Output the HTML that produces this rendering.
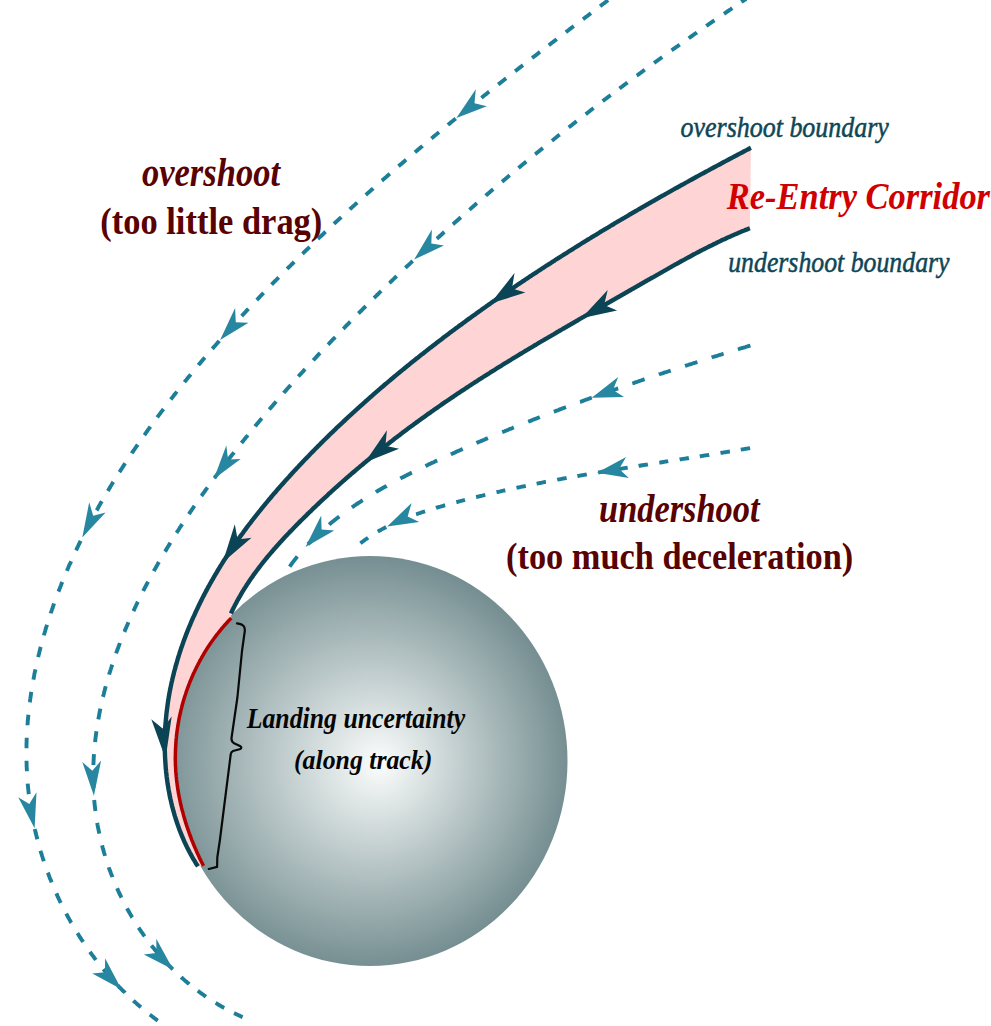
<!DOCTYPE html>
<html><head><meta charset="utf-8"><style>
html,body{margin:0;padding:0;background:#fff;}
svg{display:block;}
</style></head><body>
<svg width="991" height="1026" viewBox="0 0 991 1026">
<defs><radialGradient id="g" gradientUnits="userSpaceOnUse" cx="362.6" cy="761.8" r="206.3" fx="380.4" fy="763.2"><stop offset="0" stop-color="#fbfdfc"/><stop offset="1" stop-color="#758e91"/></radialGradient></defs>
<ellipse cx="370" cy="761" rx="197.5" ry="205" fill="url(#g)"/>
<path d="M750.9,147.8 L749.5,148.5 L748.2,149.2 L746.9,149.9 L745.5,150.6 L744.2,151.3 L742.9,152.0 L741.6,152.7 L740.2,153.4 L738.9,154.1 L737.6,154.8 L736.3,155.5 L734.9,156.2 L733.6,156.9 L732.3,157.6 L731.0,158.3 L729.6,159.0 L728.3,159.7 L727.0,160.4 L725.7,161.1 L724.3,161.8 L723.0,162.5 L721.7,163.2 L720.4,164.0 L719.0,164.7 L717.7,165.4 L716.4,166.1 L715.1,166.8 L713.7,167.5 L712.4,168.2 L711.1,168.9 L709.8,169.6 L708.5,170.4 L707.1,171.1 L705.8,171.8 L704.5,172.5 L703.2,173.2 L701.8,173.9 L700.5,174.7 L699.2,175.4 L697.9,176.1 L696.6,176.8 L695.3,177.5 L693.9,178.3 L692.6,179.0 L691.3,179.7 L690.0,180.4 L688.7,181.2 L687.4,181.9 L686.0,182.6 L684.7,183.3 L683.4,184.1 L682.1,184.8 L680.8,185.5 L679.5,186.3 L678.1,187.0 L676.8,187.7 L675.5,188.4 L674.2,189.2 L672.9,189.9 L671.6,190.6 L670.3,191.4 L669.0,192.1 L667.6,192.9 L666.3,193.6 L665.0,194.3 L663.7,195.1 L662.4,195.8 L661.1,196.5 L659.8,197.3 L658.5,198.0 L657.2,198.8 L655.9,199.5 L654.6,200.3 L653.3,201.0 L651.9,201.7 L650.6,202.5 L649.3,203.2 L648.0,204.0 L646.7,204.7 L645.4,205.5 L644.1,206.2 L642.8,207.0 L641.5,207.7 L640.2,208.5 L638.9,209.2 L637.6,210.0 L636.3,210.8 L635.0,211.5 L633.7,212.3 L632.4,213.0 L631.1,213.8 L629.8,214.5 L628.5,215.3 L627.2,216.1 L625.9,216.8 L624.6,217.6 L623.3,218.3 L622.0,219.1 L620.7,219.9 L619.4,220.6 L618.1,221.4 L616.8,222.2 L615.5,222.9 L614.2,223.7 L613.0,224.5 L611.7,225.2 L610.4,226.0 L609.1,226.8 L607.8,227.6 L606.5,228.3 L605.2,229.1 L603.9,229.9 L602.6,230.7 L601.3,231.4 L600.1,232.2 L598.8,233.0 L597.5,233.8 L596.2,234.6 L594.9,235.3 L593.6,236.1 L592.3,236.9 L591.1,237.7 L589.8,238.5 L588.5,239.3 L587.2,240.0 L585.9,240.8 L584.6,241.6 L583.4,242.4 L582.1,243.2 L580.8,244.0 L579.5,244.8 L578.2,245.6 L577.0,246.4 L575.7,247.2 L574.4,248.0 L573.1,248.8 L571.9,249.6 L570.6,250.4 L569.3,251.2 L568.0,252.0 L566.8,252.8 L565.5,253.6 L564.2,254.4 L563.0,255.2 L561.7,256.0 L560.4,256.8 L559.1,257.6 L557.9,258.4 L556.6,259.2 L555.3,260.0 L554.1,260.8 L552.8,261.6 L551.5,262.5 L550.3,263.3 L549.0,264.1 L547.8,264.9 L546.5,265.7 L545.2,266.5 L544.0,267.3 L542.7,268.2 L541.4,269.0 L540.2,269.8 L538.9,270.6 L537.7,271.5 L536.4,272.3 L535.2,273.1 L533.9,273.9 L532.6,274.8 L531.4,275.6 L530.1,276.4 L528.9,277.3 L527.6,278.1 L526.4,278.9 L525.1,279.7 L523.9,280.6 L522.6,281.4 L521.4,282.3 L520.1,283.1 L518.9,283.9 L517.6,284.8 L516.4,285.6 L515.1,286.5 L513.9,287.3 L512.6,288.1 L511.4,289.0 L510.2,289.8 L508.9,290.7 L507.7,291.5 L506.4,292.4 L505.2,293.2 L504.0,294.1 L502.7,294.9 L501.5,295.8 L500.2,296.6 L499.0,297.5 L497.8,298.3 L496.5,299.2 L495.3,300.1 L494.1,300.9 L492.8,301.8 L491.6,302.6 L490.4,303.5 L489.1,304.4 L487.9,305.2 L486.7,306.1 L485.5,307.0 L484.2,307.8 L483.0,308.7 L481.8,309.6 L480.6,310.5 L479.3,311.3 L478.1,312.2 L476.9,313.1 L475.7,314.0 L474.5,314.8 L473.2,315.7 L472.0,316.6 L470.8,317.5 L469.6,318.4 L468.4,319.2 L467.1,320.1 L465.9,321.0 L464.7,321.9 L463.5,322.8 L462.3,323.7 L461.1,324.6 L459.9,325.4 L458.7,326.3 L457.5,327.2 L456.2,328.1 L455.0,329.0 L453.8,329.9 L452.6,330.8 L451.4,331.7 L450.2,332.6 L449.0,333.5 L447.8,334.4 L446.6,335.3 L445.4,336.2 L444.2,337.1 L443.0,338.0 L441.8,339.0 L440.6,339.9 L439.4,340.8 L438.2,341.7 L437.0,342.6 L435.9,343.5 L434.7,344.4 L433.5,345.3 L432.3,346.3 L431.1,347.2 L429.9,348.1 L428.7,349.0 L427.5,349.9 L426.4,350.9 L425.2,351.8 L424.0,352.7 L422.8,353.7 L421.6,354.6 L420.4,355.5 L419.3,356.4 L418.1,357.4 L416.9,358.3 L415.7,359.2 L414.6,360.2 L413.4,361.1 L412.2,362.1 L411.0,363.0 L409.9,363.9 L408.7,364.9 L407.5,365.8 L406.4,366.8 L405.2,367.7 L404.0,368.7 L402.9,369.6 L401.7,370.6 L400.6,371.5 L399.4,372.5 L398.2,373.4 L397.1,374.4 L395.9,375.4 L394.8,376.3 L393.6,377.3 L392.5,378.2 L391.3,379.2 L390.2,380.2 L389.0,381.1 L387.9,382.1 L386.7,383.1 L385.6,384.0 L384.4,385.0 L383.3,386.0 L382.1,387.0 L381.0,387.9 L379.9,388.9 L378.7,389.9 L377.6,390.9 L376.4,391.9 L375.3,392.9 L374.2,393.8 L373.0,394.8 L371.9,395.8 L370.8,396.8 L369.6,397.8 L368.5,398.8 L367.4,399.8 L366.3,400.8 L365.1,401.8 L364.0,402.8 L362.9,403.8 L361.8,404.8 L360.7,405.8 L359.5,406.8 L358.4,407.8 L357.3,408.8 L356.2,409.8 L355.1,410.8 L354.0,411.8 L352.9,412.8 L351.8,413.9 L350.7,414.9 L349.6,415.9 L348.5,416.9 L347.4,417.9 L346.3,419.0 L345.2,420.0 L344.1,421.0 L343.0,422.0 L341.9,423.1 L340.8,424.1 L339.7,425.1 L338.6,426.2 L337.5,427.2 L336.4,428.2 L335.3,429.3 L334.2,430.3 L333.2,431.4 L332.1,432.4 L331.0,433.4 L329.9,434.5 L328.8,435.5 L327.8,436.6 L326.7,437.6 L325.6,438.7 L324.5,439.8 L323.5,440.8 L322.4,441.9 L321.3,442.9 L320.3,444.0 L319.2,445.1 L318.1,446.1 L317.1,447.2 L316.0,448.3 L315.0,449.3 L313.9,450.4 L312.9,451.5 L311.8,452.5 L310.8,453.6 L309.7,454.7 L308.7,455.8 L307.6,456.9 L306.6,458.0 L305.5,459.0 L304.5,460.1 L303.4,461.2 L302.4,462.3 L301.4,463.4 L300.3,464.5 L299.3,465.6 L298.3,466.7 L297.2,467.8 L296.2,468.9 L295.2,470.0 L294.2,471.1 L293.1,472.2 L292.1,473.3 L291.1,474.4 L290.1,475.5 L289.1,476.7 L288.1,477.8 L287.0,478.9 L286.0,480.0 L285.0,481.1 L284.0,482.3 L283.0,483.4 L282.0,484.5 L281.0,485.6 L280.0,486.8 L279.0,487.9 L278.0,489.0 L277.0,490.2 L276.1,491.3 L275.1,492.5 L274.1,493.6 L273.1,494.7 L272.1,495.9 L271.2,497.0 L270.2,498.2 L269.2,499.3 L268.2,500.5 L267.3,501.7 L266.3,502.8 L265.4,504.0 L264.4,505.1 L263.4,506.3 L262.5,507.5 L261.5,508.6 L260.6,509.8 L259.6,511.0 L258.7,512.2 L257.8,513.3 L256.8,514.5 L255.9,515.7 L255.0,516.9 L254.0,518.1 L253.1,519.3 L252.2,520.5 L251.3,521.6 L250.4,522.8 L249.4,524.0 L248.5,525.2 L247.6,526.4 L246.7,527.6 L245.8,528.9 L244.9,530.1 L244.0,531.3 L243.2,532.5 L242.3,533.7 L241.4,534.9 L240.5,536.1 L239.6,537.4 L238.7,538.6 L237.9,539.8 L237.0,541.0 L236.1,542.3 L235.3,543.5 L234.4,544.7 L233.6,546.0 L232.7,547.2 L231.9,548.5 L231.0,549.7 L230.2,551.0 L229.4,552.2 L228.5,553.5 L227.7,554.7 L226.9,556.0 L226.1,557.2 L225.3,558.5 L224.4,559.8 L223.6,561.0 L222.8,562.3 L222.0,563.6 L221.2,564.9 L220.4,566.1 L219.7,567.4 L218.9,568.7 L218.1,570.0 L217.3,571.3 L216.6,572.6 L215.8,573.9 L215.0,575.2 L214.3,576.5 L213.5,577.8 L212.8,579.1 L212.0,580.4 L211.3,581.7 L210.5,583.0 L209.8,584.3 L209.1,585.6 L208.3,586.9 L207.6,588.3 L206.9,589.6 L206.2,590.9 L205.5,592.2 L204.8,593.6 L204.1,594.9 L203.4,596.2 L202.7,597.6 L202.0,598.9 L201.4,600.3 L200.7,601.6 L200.0,603.0 L199.4,604.3 L198.7,605.7 L198.1,607.0 L197.4,608.4 L196.8,609.7 L196.1,611.1 L195.5,612.5 L194.9,613.8 L194.3,615.2 L193.6,616.6 L193.0,617.9 L192.4,619.3 L191.8,620.7 L191.2,622.1 L190.6,623.5 L190.1,624.9 L189.5,626.2 L188.9,627.6 L188.3,629.0 L187.8,630.4 L187.2,631.8 L186.7,633.2 L186.1,634.6 L185.6,636.0 L185.1,637.4 L184.5,638.8 L184.0,640.2 L183.5,641.6 L183.0,643.1 L182.5,644.5 L182.0,645.9 L181.5,647.3 L181.0,648.7 L180.6,650.2 L180.1,651.6 L179.6,653.0 L179.2,654.4 L178.7,655.9 L178.3,657.3 L177.8,658.7 L177.4,660.2 L177.0,661.6 L176.6,663.1 L176.2,664.5 L175.7,665.9 L175.4,667.4 L175.0,668.8 L174.6,670.3 L174.2,671.7 L173.8,673.2 L173.5,674.7 L173.1,676.1 L172.8,677.6 L172.4,679.0 L172.1,680.5 L171.7,682.0 L171.4,683.4 L171.1,684.9 L170.8,686.4 L170.5,687.8 L170.2,689.3 L169.9,690.8 L169.6,692.3 L169.4,693.7 L169.1,695.2 L168.8,696.7 L168.6,698.2 L168.4,699.7 L168.1,701.1 L167.9,702.6 L167.7,704.1 L167.5,705.6 L167.3,707.1 L167.1,708.6 L166.9,710.1 L166.7,711.6 L166.5,713.1 L166.4,714.6 L166.2,716.1 L166.1,717.6 L165.9,719.1 L165.8,720.6 L165.7,722.1 L165.5,723.6 L165.4,725.1 L165.3,726.6 L165.2,728.1 L165.2,729.6 L165.1,731.1 L165.0,732.6 L164.9,734.1 L164.9,735.6 L164.8,737.1 L164.8,738.6 L164.8,740.2 L164.8,741.7 L164.7,743.2 L164.7,744.7 L164.7,746.2 L164.8,747.7 L164.8,749.2 L164.8,750.7 L164.9,752.2 L164.9,753.7 L165.0,755.2 L165.0,756.7 L165.1,758.2 L165.2,759.7 L165.3,761.2 L165.4,762.7 L165.5,764.2 L165.6,765.8 L165.7,767.3 L165.8,768.8 L166.0,770.2 L166.1,771.7 L166.3,773.2 L166.5,774.7 L166.6,776.2 L166.8,777.7 L167.0,779.2 L167.2,780.7 L167.4,782.2 L167.6,783.7 L167.9,785.2 L168.1,786.7 L168.4,788.1 L168.6,789.6 L168.9,791.1 L169.2,792.6 L169.4,794.0 L169.7,795.5 L170.0,797.0 L170.3,798.5 L170.7,799.9 L171.0,801.4 L171.3,802.8 L171.7,804.3 L172.0,805.8 L172.4,807.2 L172.8,808.7 L173.2,810.1 L173.6,811.6 L174.0,813.0 L174.4,814.5 L174.8,815.9 L175.3,817.3 L175.7,818.8 L176.2,820.2 L176.6,821.6 L177.1,823.0 L177.6,824.4 L178.1,825.9 L178.6,827.3 L179.1,828.7 L179.6,830.1 L180.2,831.5 L180.7,832.9 L181.3,834.3 L181.8,835.7 L182.4,837.0 L183.0,838.4 L183.6,839.8 L184.2,841.2 L184.8,842.5 L185.5,843.9 L186.1,845.3 L186.8,846.6 L187.4,848.0 L188.1,849.3 L188.8,850.6 L189.5,852.0 L190.2,853.3 L190.9,854.6 L191.6,856.0 L192.4,857.3 L193.1,858.6 L193.9,859.9 L194.7,861.2 L195.5,862.5 L196.2,863.8 L197.1,865.0 L197.9,866.3 L203.5,865.9 L202.8,864.5 L202.1,863.2 L201.4,861.8 L200.8,860.5 L200.1,859.1 L199.4,857.7 L198.8,856.3 L198.2,855.0 L197.5,853.6 L196.9,852.2 L196.3,850.8 L195.7,849.4 L195.1,848.0 L194.5,846.6 L193.9,845.2 L193.3,843.8 L192.8,842.4 L192.2,841.0 L191.6,839.6 L191.1,838.2 L190.6,836.7 L190.0,835.3 L189.5,833.9 L189.0,832.5 L188.5,831.0 L188.0,829.6 L187.5,828.1 L187.0,826.7 L186.5,825.3 L186.1,823.8 L185.6,822.4 L185.2,820.9 L184.7,819.4 L184.3,818.0 L183.9,816.5 L183.5,815.1 L183.1,813.6 L182.7,812.1 L182.3,810.7 L181.9,809.2 L181.5,807.7 L181.2,806.2 L180.8,804.8 L180.5,803.3 L180.2,801.8 L179.9,800.3 L179.6,798.8 L179.3,797.3 L179.0,795.9 L178.7,794.4 L178.4,792.9 L178.2,791.4 L177.9,789.9 L177.7,788.4 L177.5,786.9 L177.3,785.4 L177.1,783.9 L176.9,782.4 L176.7,780.9 L176.5,779.4 L176.4,777.9 L176.2,776.4 L176.1,774.9 L176.0,773.4 L175.8,771.9 L175.7,770.4 L175.7,768.9 L175.6,767.3 L175.5,765.8 L175.4,764.3 L175.4,762.8 L175.4,761.3 L175.3,759.8 L175.3,758.3 L175.3,756.8 L175.4,755.3 L175.4,753.7 L175.4,752.2 L175.5,750.7 L175.5,749.2 L175.6,747.7 L175.7,746.2 L175.8,744.7 L175.9,743.2 L176.0,741.7 L176.1,740.2 L176.2,738.7 L176.4,737.2 L176.5,735.7 L176.7,734.1 L176.9,732.6 L177.1,731.1 L177.3,729.6 L177.5,728.2 L177.7,726.7 L178.0,725.2 L178.2,723.7 L178.5,722.2 L178.7,720.7 L179.0,719.2 L179.3,717.7 L179.6,716.2 L179.9,714.8 L180.3,713.3 L180.6,711.8 L180.9,710.3 L181.3,708.9 L181.7,707.4 L182.0,705.9 L182.4,704.5 L182.8,703.0 L183.2,701.5 L183.7,700.1 L184.1,698.6 L184.5,697.2 L185.0,695.8 L185.5,694.3 L185.9,692.9 L186.4,691.4 L186.9,690.0 L187.4,688.6 L188.0,687.2 L188.5,685.7 L189.0,684.3 L189.6,682.9 L190.1,681.5 L190.7,680.1 L191.3,678.7 L191.9,677.3 L192.5,675.9 L193.1,674.5 L193.7,673.1 L194.4,671.8 L195.0,670.4 L195.7,669.0 L196.3,667.7 L197.0,666.3 L197.7,665.0 L198.4,663.6 L199.1,662.3 L199.8,660.9 L200.5,659.6 L201.3,658.3 L202.0,656.9 L202.8,655.6 L203.5,654.3 L204.3,653.0 L205.1,651.7 L205.9,650.4 L206.7,649.1 L207.5,647.8 L208.4,646.6 L209.2,645.3 L210.1,644.0 L210.9,642.8 L211.8,641.5 L212.7,640.3 L213.6,639.1 L214.5,637.8 L215.4,636.6 L216.3,635.4 L217.2,634.2 L218.2,633.0 L219.1,631.8 L220.1,630.6 L221.1,629.4 L222.0,628.2 L223.0,627.1 L224.0,625.9 L225.0,624.8 L226.1,623.6 L227.1,622.5 L228.1,621.3 L229.2,620.2 L230.2,619.1 L231.3,618.0 L230.9,613.5 L231.5,612.2 L232.2,610.8 L232.8,609.4 L233.5,608.0 L234.2,606.7 L234.9,605.3 L235.6,604.0 L236.3,602.7 L237.0,601.3 L237.7,600.0 L238.5,598.7 L239.2,597.4 L240.0,596.1 L240.7,594.8 L241.5,593.5 L242.2,592.2 L243.0,590.9 L243.8,589.6 L244.6,588.3 L245.4,587.1 L246.2,585.8 L247.0,584.5 L247.9,583.3 L248.7,582.0 L249.5,580.8 L250.4,579.5 L251.2,578.3 L252.1,577.1 L253.0,575.8 L253.8,574.6 L254.7,573.4 L255.6,572.2 L256.5,571.0 L257.4,569.8 L258.3,568.6 L259.2,567.4 L260.1,566.2 L261.0,565.0 L261.9,563.8 L262.9,562.6 L263.8,561.5 L264.7,560.3 L265.7,559.1 L266.6,558.0 L267.6,556.8 L268.6,555.7 L269.5,554.5 L270.5,553.4 L271.5,552.2 L272.5,551.1 L273.4,549.9 L274.4,548.8 L275.4,547.7 L276.4,546.5 L277.4,545.4 L278.4,544.3 L279.4,543.2 L280.4,542.1 L281.5,540.9 L282.5,539.8 L283.5,538.7 L284.5,537.6 L285.5,536.5 L286.6,535.4 L287.6,534.3 L288.7,533.2 L289.7,532.1 L290.7,531.1 L291.8,530.0 L292.8,528.9 L293.9,527.8 L294.9,526.7 L296.0,525.7 L297.0,524.6 L298.1,523.5 L299.2,522.4 L300.2,521.4 L301.3,520.3 L302.4,519.2 L303.4,518.2 L304.5,517.1 L305.6,516.1 L306.7,515.0 L307.7,513.9 L308.8,512.9 L309.9,511.8 L311.0,510.8 L312.1,509.7 L313.1,508.7 L314.2,507.7 L315.3,506.6 L316.4,505.6 L317.5,504.5 L318.6,503.5 L319.7,502.5 L320.8,501.4 L321.9,500.4 L323.0,499.4 L324.1,498.3 L325.2,497.3 L326.3,496.3 L327.4,495.3 L328.5,494.2 L329.6,493.2 L330.8,492.2 L331.9,491.2 L333.0,490.2 L334.1,489.2 L335.2,488.2 L336.3,487.2 L337.5,486.2 L338.6,485.1 L339.7,484.1 L340.8,483.1 L342.0,482.1 L343.1,481.2 L344.2,480.2 L345.4,479.2 L346.5,478.2 L347.6,477.2 L348.8,476.2 L349.9,475.2 L351.1,474.2 L352.2,473.2 L353.3,472.3 L354.5,471.3 L355.6,470.3 L356.8,469.3 L357.9,468.4 L359.1,467.4 L360.2,466.4 L361.4,465.4 L362.6,464.5 L363.7,463.5 L364.9,462.6 L366.0,461.6 L367.2,460.6 L368.4,459.7 L369.5,458.7 L370.7,457.8 L371.9,456.8 L373.0,455.9 L374.2,454.9 L375.4,454.0 L376.6,453.0 L377.7,452.1 L378.9,451.1 L380.1,450.2 L381.3,449.3 L382.4,448.3 L383.6,447.4 L384.8,446.4 L386.0,445.5 L387.2,444.6 L388.4,443.7 L389.6,442.7 L390.7,441.8 L391.9,440.9 L393.1,440.0 L394.3,439.0 L395.5,438.1 L396.7,437.2 L397.9,436.3 L399.1,435.4 L400.3,434.5 L401.5,433.6 L402.7,432.6 L403.9,431.7 L405.1,430.8 L406.3,429.9 L407.5,429.0 L408.7,428.1 L409.9,427.2 L411.2,426.3 L412.4,425.4 L413.6,424.5 L414.8,423.7 L416.0,422.8 L417.2,421.9 L418.5,421.0 L419.7,420.1 L420.9,419.2 L422.1,418.3 L423.3,417.5 L424.6,416.6 L425.8,415.7 L427.0,414.8 L428.2,413.9 L429.5,413.1 L430.7,412.2 L431.9,411.3 L433.2,410.5 L434.4,409.6 L435.6,408.7 L436.9,407.9 L438.1,407.0 L439.3,406.2 L440.6,405.3 L441.8,404.4 L443.0,403.6 L444.3,402.7 L445.5,401.9 L446.8,401.0 L448.0,400.2 L449.3,399.3 L450.5,398.5 L451.8,397.6 L453.0,396.8 L454.2,396.0 L455.5,395.1 L456.7,394.3 L458.0,393.4 L459.3,392.6 L460.5,391.8 L461.8,390.9 L463.0,390.1 L464.3,389.3 L465.5,388.5 L466.8,387.6 L468.0,386.8 L469.3,386.0 L470.6,385.2 L471.8,384.3 L473.1,383.5 L474.4,382.7 L475.6,381.9 L476.9,381.1 L478.1,380.3 L479.4,379.4 L480.7,378.6 L481.9,377.8 L483.2,377.0 L484.5,376.2 L485.8,375.4 L487.0,374.6 L488.3,373.8 L489.6,373.0 L490.8,372.2 L492.1,371.4 L493.4,370.6 L494.7,369.8 L495.9,369.0 L497.2,368.2 L498.5,367.4 L499.8,366.6 L501.1,365.8 L502.3,365.0 L503.6,364.2 L504.9,363.4 L506.2,362.6 L507.5,361.9 L508.7,361.1 L510.0,360.3 L511.3,359.5 L512.6,358.7 L513.9,357.9 L515.2,357.1 L516.5,356.4 L517.7,355.6 L519.0,354.8 L520.3,354.0 L521.6,353.3 L522.9,352.5 L524.2,351.7 L525.5,350.9 L526.8,350.1 L528.1,349.4 L529.3,348.6 L530.6,347.8 L531.9,347.1 L533.2,346.3 L534.5,345.5 L535.8,344.8 L537.1,344.0 L538.4,343.2 L539.7,342.4 L541.0,341.7 L542.3,340.9 L543.6,340.2 L544.9,339.4 L546.2,338.6 L547.5,337.9 L548.8,337.1 L550.1,336.3 L551.4,335.6 L552.7,334.8 L554.0,334.1 L555.3,333.3 L556.6,332.5 L557.9,331.8 L559.2,331.0 L560.5,330.3 L561.8,329.5 L563.1,328.7 L564.4,328.0 L565.7,327.2 L567.0,326.5 L568.3,325.7 L569.6,325.0 L570.9,324.2 L572.2,323.5 L573.5,322.7 L574.8,322.0 L576.1,321.2 L577.4,320.5 L578.7,319.7 L580.0,318.9 L581.3,318.2 L582.6,317.4 L584.0,316.7 L585.3,315.9 L586.6,315.2 L587.9,314.4 L589.2,313.7 L590.5,312.9 L591.8,312.2 L593.1,311.4 L594.4,310.7 L595.7,309.9 L597.0,309.2 L598.3,308.4 L599.6,307.7 L600.9,307.0 L602.3,306.2 L603.6,305.5 L604.9,304.7 L606.2,304.0 L607.5,303.2 L608.8,302.5 L610.1,301.7 L611.4,301.0 L612.7,300.2 L614.0,299.5 L615.3,298.7 L616.6,298.0 L618.0,297.2 L619.3,296.5 L620.6,295.7 L621.9,295.0 L623.2,294.2 L624.5,293.5 L625.8,292.7 L627.1,292.0 L628.4,291.2 L629.7,290.5 L631.0,289.8 L632.3,289.0 L633.7,288.3 L635.0,287.5 L636.3,286.8 L637.6,286.0 L638.9,285.3 L640.2,284.5 L641.5,283.8 L642.8,283.0 L644.1,282.3 L645.4,281.5 L646.7,280.8 L648.0,280.0 L649.4,279.3 L650.7,278.5 L652.0,277.8 L653.3,277.1 L654.6,276.3 L655.9,275.6 L657.2,274.8 L658.5,274.1 L659.8,273.3 L661.1,272.6 L662.4,271.8 L663.7,271.1 L665.1,270.3 L666.4,269.6 L667.7,268.9 L669.0,268.1 L670.3,267.4 L671.6,266.6 L672.9,265.9 L674.2,265.2 L675.5,264.4 L676.9,263.7 L678.2,263.0 L679.5,262.2 L680.8,261.5 L682.1,260.8 L683.4,260.1 L684.8,259.3 L686.1,258.6 L687.4,257.9 L688.7,257.2 L690.1,256.5 L691.4,255.8 L692.7,255.0 L694.0,254.3 L695.4,253.6 L696.7,252.9 L698.0,252.2 L699.4,251.5 L700.7,250.8 L702.0,250.1 L703.4,249.4 L704.7,248.8 L706.0,248.1 L707.4,247.4 L708.7,246.7 L710.1,246.0 L711.4,245.4 L712.8,244.7 L714.1,244.0 L715.5,243.4 L716.8,242.7 L718.2,242.1 L719.5,241.4 L720.9,240.8 L722.2,240.1 L723.6,239.5 L725.0,238.9 L726.3,238.2 L727.7,237.6 L729.1,237.0 L730.4,236.4 L731.8,235.8 L733.2,235.2 L734.6,234.6 L736.0,234.0 L737.3,233.4 L738.7,232.8 L740.1,232.2 L741.5,231.6 L742.9,231.0 L744.3,230.5 L745.7,229.9 L747.1,229.4 L748.5,228.8 L749.9,228.3 Z" fill="#fed4d5"/>
<path d="M231.3,618.0 L230.2,619.1 L229.2,620.2 L228.1,621.3 L227.1,622.5 L226.1,623.6 L225.0,624.8 L224.0,625.9 L223.0,627.1 L222.0,628.2 L221.1,629.4 L220.1,630.6 L219.1,631.8 L218.2,633.0 L217.2,634.2 L216.3,635.4 L215.4,636.6 L214.5,637.8 L213.6,639.1 L212.7,640.3 L211.8,641.5 L210.9,642.8 L210.1,644.0 L209.2,645.3 L208.4,646.6 L207.5,647.8 L206.7,649.1 L205.9,650.4 L205.1,651.7 L204.3,653.0 L203.5,654.3 L202.8,655.6 L202.0,656.9 L201.3,658.3 L200.5,659.6 L199.8,660.9 L199.1,662.3 L198.4,663.6 L197.7,665.0 L197.0,666.3 L196.3,667.7 L195.7,669.0 L195.0,670.4 L194.4,671.8 L193.7,673.1 L193.1,674.5 L192.5,675.9 L191.9,677.3 L191.3,678.7 L190.7,680.1 L190.1,681.5 L189.6,682.9 L189.0,684.3 L188.5,685.7 L188.0,687.2 L187.4,688.6 L186.9,690.0 L186.4,691.4 L185.9,692.9 L185.5,694.3 L185.0,695.8 L184.5,697.2 L184.1,698.6 L183.7,700.1 L183.2,701.5 L182.8,703.0 L182.4,704.5 L182.0,705.9 L181.7,707.4 L181.3,708.9 L180.9,710.3 L180.6,711.8 L180.3,713.3 L179.9,714.8 L179.6,716.2 L179.3,717.7 L179.0,719.2 L178.7,720.7 L178.5,722.2 L178.2,723.7 L178.0,725.2 L177.7,726.7 L177.5,728.2 L177.3,729.6 L177.1,731.1 L176.9,732.6 L176.7,734.1 L176.5,735.7 L176.4,737.2 L176.2,738.7 L176.1,740.2 L176.0,741.7 L175.9,743.2 L175.8,744.7 L175.7,746.2 L175.6,747.7 L175.5,749.2 L175.5,750.7 L175.4,752.2 L175.4,753.7 L175.4,755.3 L175.3,756.8 L175.3,758.3 L175.3,759.8 L175.4,761.3 L175.4,762.8 L175.4,764.3 L175.5,765.8 L175.6,767.3 L175.7,768.9 L175.7,770.4 L175.8,771.9 L176.0,773.4 L176.1,774.9 L176.2,776.4 L176.4,777.9 L176.5,779.4 L176.7,780.9 L176.9,782.4 L177.1,783.9 L177.3,785.4 L177.5,786.9 L177.7,788.4 L177.9,789.9 L178.2,791.4 L178.4,792.9 L178.7,794.4 L179.0,795.9 L179.3,797.3 L179.6,798.8 L179.9,800.3 L180.2,801.8 L180.5,803.3 L180.8,804.8 L181.2,806.2 L181.5,807.7 L181.9,809.2 L182.3,810.7 L182.7,812.1 L183.1,813.6 L183.5,815.1 L183.9,816.5 L184.3,818.0 L184.7,819.4 L185.2,820.9 L185.6,822.4 L186.1,823.8 L186.5,825.3 L187.0,826.7 L187.5,828.1 L188.0,829.6 L188.5,831.0 L189.0,832.5 L189.5,833.9 L190.0,835.3 L190.6,836.7 L191.1,838.2 L191.6,839.6 L192.2,841.0 L192.8,842.4 L193.3,843.8 L193.9,845.2 L194.5,846.6 L195.1,848.0 L195.7,849.4 L196.3,850.8 L196.9,852.2 L197.5,853.6 L198.2,855.0 L198.8,856.3 L199.4,857.7 L200.1,859.1 L200.8,860.5 L201.4,861.8 L202.1,863.2 L202.8,864.5 L203.5,865.9" fill="none" stroke="#b00000" stroke-width="3.5"/>
<path d="M608.1,0.2 L607.3,0.8 L606.5,1.4 L605.7,2.0 L604.9,2.6 L604.1,3.2 L603.3,3.8 L602.5,4.4 L601.7,5.0 L600.9,5.6 L600.1,6.2 M591.0,13.2 L590.2,13.8 L589.4,14.4 L588.6,15.0 L587.8,15.6 L587.0,16.2 L586.2,16.8 L585.4,17.4 L584.6,18.0 L583.8,18.6 L583.0,19.2 M573.8,26.1 L573.0,26.7 L572.2,27.3 L571.4,27.9 L570.6,28.5 L569.8,29.1 L569.0,29.8 L568.2,30.4 L567.4,31.0 L566.6,31.6 L565.9,32.2 M556.7,39.1 L555.9,39.8 L555.1,40.4 L554.3,41.0 L553.5,41.6 L552.7,42.2 L551.9,42.8 L551.1,43.4 L550.4,44.0 L549.6,44.6 L548.8,45.2 M540.0,51.9 L539.2,52.5 L538.5,53.1 L537.7,53.8 L536.9,54.4 L536.1,55.0 L535.3,55.6 L534.5,56.2 L533.7,56.8 L532.9,57.4 L532.1,58.0 M523.0,65.1 L522.2,65.7 L521.5,66.3 L520.7,66.9 L519.9,67.5 L519.1,68.1 L518.3,68.8 L517.5,69.4 L516.7,70.0 L515.9,70.6 L515.1,71.2 M506.1,78.3 L505.3,78.9 L504.5,79.5 L503.7,80.2 L502.9,80.8 L502.2,81.4 L501.4,82.0 L500.6,82.6 L499.8,83.2 L499.0,83.9 L498.2,84.5 M489.2,91.6 L488.4,92.2 L487.6,92.9 L486.9,93.5 L486.1,94.1 L485.3,94.7 L484.5,95.3 L483.7,96.0 L482.9,96.6 L482.2,97.2 L481.4,97.8 M472.4,105.0 L471.6,105.6 L470.8,106.3 L470.1,106.9 L469.3,107.5 L468.5,108.2 L467.7,108.8 L466.9,109.4 L466.2,110.0 L465.4,110.7 L464.6,111.3 M455.7,118.5 L454.9,119.2 L454.1,119.8 L453.4,120.4 L452.6,121.1 L451.8,121.7 L451.0,122.3 L450.3,123.0 L449.5,123.6 L448.7,124.2 L447.9,124.9 M439.1,132.2 L438.3,132.8 L437.5,133.4 L436.7,134.1 L436.0,134.7 L435.2,135.3 L434.4,136.0 L433.7,136.6 L432.9,137.3 L432.1,137.9 L431.4,138.5 M422.5,145.9 L421.8,146.6 L421.0,147.2 L420.2,147.8 L419.5,148.5 L418.7,149.1 L417.9,149.8 L417.2,150.4 L416.4,151.1 L415.6,151.7 L414.9,152.3 M406.1,159.8 L405.3,160.4 L404.6,161.1 L403.8,161.7 L403.1,162.4 L402.3,163.0 L401.5,163.7 L400.8,164.3 L400.0,165.0 L399.3,165.6 L398.5,166.3 M389.8,173.8 L389.0,174.5 L388.3,175.1 L387.5,175.8 L386.8,176.4 L386.0,177.1 L385.3,177.7 L384.5,178.4 L383.8,179.1 L383.0,179.7 L382.3,180.4 L381.9,180.7 M373.2,188.3 L372.5,189.0 L371.7,189.6 L371.0,190.3 L370.3,190.9 L369.5,191.6 L368.8,192.3 L368.0,192.9 L367.3,193.6 L366.5,194.3 L365.8,194.9 M357.2,202.6 L356.5,203.3 L355.7,203.9 L355.0,204.6 L354.2,205.3 L353.5,206.0 L352.8,206.6 L352.0,207.3 L351.3,208.0 L350.5,208.6 L349.8,209.3 M341.3,217.1 L340.6,217.8 L339.8,218.4 L339.1,219.1 L338.4,219.8 L337.6,220.5 L336.9,221.1 L336.2,221.8 L335.4,222.5 L334.7,223.2 L334.0,223.9 M325.6,231.7 L324.8,232.4 L324.1,233.1 L323.4,233.8 L322.7,234.5 L321.9,235.2 L321.2,235.8 L320.5,236.5 L319.8,237.2 L319.0,237.9 L318.3,238.6 L317.9,238.9 M309.6,246.9 L308.9,247.6 L308.2,248.3 L307.5,249.0 L306.7,249.7 L306.0,250.4 L305.3,251.1 L304.6,251.7 L303.9,252.4 L303.2,253.1 L302.4,253.8 M294.2,261.9 L293.5,262.6 L292.8,263.3 L292.1,264.0 L291.4,264.7 L290.7,265.4 L290.0,266.1 L289.3,266.8 L288.5,267.5 L287.8,268.2 L287.1,268.9 M278.7,277.4 L278.0,278.1 L277.3,278.8 L276.6,279.6 L275.8,280.3 L275.1,281.0 L274.4,281.7 L273.7,282.4 L273.0,283.1 L272.3,283.8 L271.6,284.6 M263.6,292.8 L262.9,293.5 L262.3,294.2 L261.6,295.0 L260.9,295.7 L260.2,296.4 L259.5,297.1 L258.8,297.9 L258.1,298.6 L257.4,299.3 L256.7,300.0 M248.5,308.8 L247.8,309.5 L247.1,310.2 L246.4,310.9 L245.8,311.7 L245.1,312.4 L244.4,313.1 L243.7,313.9 L243.0,314.6 L242.4,315.3 L241.7,316.1 M233.9,324.5 L233.2,325.3 L232.6,326.0 L231.9,326.8 L231.2,327.5 L230.5,328.3 L229.9,329.0 L229.2,329.7 L228.5,330.5 L227.9,331.2 L227.2,332.0 L226.9,332.3 M219.2,340.9 L218.6,341.7 L217.9,342.4 L217.2,343.2 L216.6,343.9 L215.9,344.7 L215.3,345.4 L214.6,346.2 L214.0,347.0 L213.3,347.7 L212.6,348.5 L212.3,348.8 M204.8,357.6 L204.2,358.3 L203.5,359.1 L202.9,359.8 L202.2,360.6 L201.6,361.4 L200.9,362.1 L200.3,362.9 L199.7,363.7 L199.0,364.4 L198.4,365.2 M190.7,374.4 L190.1,375.2 L189.4,376.0 L188.8,376.8 L188.2,377.5 L187.5,378.3 L186.9,379.1 L186.3,379.9 L185.7,380.6 L185.0,381.4 L184.4,382.2 M176.9,391.6 L176.3,392.4 L175.7,393.1 L175.1,393.9 L174.4,394.7 L173.8,395.5 L173.2,396.3 L172.6,397.1 L172.0,397.9 L171.4,398.7 L170.8,399.5 M163.5,409.0 L162.9,409.8 L162.3,410.6 L161.7,411.4 L161.1,412.2 L160.5,413.0 L159.9,413.8 L159.3,414.6 L158.7,415.4 L158.1,416.2 L157.5,417.0 L157.2,417.4 M150.4,426.7 L149.8,427.5 L149.2,428.3 L148.6,429.1 L148.0,429.9 L147.5,430.7 L146.9,431.5 L146.3,432.3 L145.7,433.2 L145.1,434.0 L144.6,434.8 L144.3,435.2 M137.7,444.6 L137.1,445.5 L136.5,446.3 L136.0,447.1 L135.4,447.9 L134.9,448.8 L134.3,449.6 L133.7,450.4 L133.2,451.2 L132.6,452.1 L132.0,452.9 L131.8,453.3 M125.1,463.3 L124.6,464.1 L124.0,465.0 L123.5,465.8 L123.0,466.7 L122.4,467.5 L121.9,468.3 L121.3,469.2 L120.8,470.0 L120.3,470.9 L119.7,471.7 L119.4,472.1 M113.3,481.9 L112.8,482.7 L112.3,483.6 L111.8,484.4 L111.3,485.3 L110.7,486.1 L110.2,487.0 L109.7,487.9 L109.2,488.7 L108.7,489.6 L108.2,490.4 L107.9,490.9 M101.8,501.2 L101.3,502.1 L100.8,502.9 L100.3,503.8 L99.8,504.7 L99.3,505.5 L98.8,506.4 L98.4,507.3 L97.9,508.2 L97.4,509.0 L96.9,509.9 L96.6,510.3 M90.9,520.9 L90.4,521.7 L90.0,522.6 L89.5,523.5 L89.0,524.4 L88.6,525.3 L88.1,526.2 L87.6,527.1 L87.2,527.9 L86.7,528.8 L86.2,529.7 L86.0,530.2 M80.6,540.9 L80.2,541.8 L79.7,542.7 L79.3,543.6 L78.9,544.5 L78.4,545.4 L78.0,546.3 L77.6,547.2 L77.1,548.1 L76.7,549.0 L76.3,549.9 L76.1,550.3 M71.1,561.2 L70.7,562.2 L70.3,563.1 L69.8,564.0 L69.4,564.9 L69.0,565.8 L68.6,566.7 L68.2,567.7 L67.8,568.6 L67.5,569.5 L67.1,570.4 L66.9,570.9 M62.3,582.0 L61.9,582.9 L61.5,583.8 L61.2,584.7 L60.8,585.7 L60.4,586.6 L60.1,587.5 L59.7,588.5 L59.3,589.4 L59.0,590.3 L58.6,591.3 L58.4,591.7 M54.1,603.5 L53.8,604.4 L53.4,605.3 L53.1,606.3 L52.8,607.2 L52.5,608.2 L52.1,609.1 L51.8,610.1 L51.5,611.0 L51.2,612.0 L50.8,612.9 L50.7,613.4 M47.0,624.8 L46.7,625.8 L46.4,626.7 L46.1,627.7 L45.8,628.6 L45.5,629.6 L45.3,630.5 L45.0,631.5 L44.7,632.5 L44.4,633.4 L44.1,634.4 L43.9,635.3 M40.7,646.9 L40.4,647.9 L40.2,648.9 L40.0,649.8 L39.7,650.8 L39.5,651.8 L39.2,652.7 L39.0,653.7 L38.7,654.7 L38.5,655.6 L38.3,656.6 L38.2,657.1 M35.4,669.3 L35.2,670.3 L35.0,671.3 L34.8,672.2 L34.6,673.2 L34.4,674.2 L34.2,675.2 L34.1,676.2 L33.9,677.1 L33.7,678.1 L33.5,679.1 L33.4,679.6 M31.3,691.9 L31.1,692.9 L31.0,693.9 L30.9,694.9 L30.7,695.9 L30.6,696.9 L30.4,697.9 L30.3,698.8 L30.1,699.8 L30.0,700.8 L29.9,701.8 L29.8,702.3 M28.4,714.7 L28.3,715.7 L28.2,716.7 L28.1,717.7 L28.0,718.7 L27.9,719.7 L27.8,720.7 L27.7,721.7 L27.7,722.7 L27.6,723.7 L27.5,724.7 L27.5,725.2 M26.7,737.7 L26.7,738.7 L26.7,739.7 L26.6,740.7 L26.6,741.7 L26.6,742.7 L26.5,743.7 L26.5,744.7 L26.5,745.7 L26.5,746.7 L26.5,747.7 L26.5,748.2 M26.5,760.7 L26.5,761.7 L26.6,762.7 L26.6,763.7 L26.6,764.7 L26.6,765.7 L26.7,766.7 L26.7,767.7 L26.8,768.7 L26.8,769.7 L26.9,770.7 L26.9,771.2 M27.7,783.6 L27.8,784.6 L27.9,785.6 L28.0,786.6 L28.1,787.6 L28.2,788.6 L28.3,789.6 L28.4,790.6 L28.5,791.6 L28.6,792.6 L28.7,793.6 L28.8,794.1 M30.5,806.5 L30.6,807.4 L30.8,808.4 L31.0,809.4 L31.1,810.4 L31.3,811.4 L31.5,812.4 L31.6,813.4 L31.8,814.3 L32.0,815.3 L32.2,816.3 L32.3,816.8 M34.8,829.0 L35.0,830.0 L35.3,831.0 L35.5,832.0 L35.7,832.9 L36.0,833.9 L36.2,834.9 L36.4,835.8 L36.7,836.8 L36.9,837.8 L37.2,838.8 L37.3,839.2 M40.5,850.8 L40.8,851.8 L41.1,852.7 L41.4,853.7 L41.7,854.6 L42.0,855.6 L42.3,856.5 L42.6,857.5 L42.9,858.4 L43.2,859.4 L43.5,860.3 L43.8,861.3 M47.8,872.6 L48.2,873.5 L48.5,874.5 L48.9,875.4 L49.2,876.3 L49.6,877.3 L49.9,878.2 L50.3,879.1 L50.7,880.1 L51.1,881.0 L51.4,881.9 L51.6,882.4 M56.3,893.4 L56.7,894.3 L57.2,895.2 L57.6,896.2 L58.0,897.1 L58.4,898.0 L58.8,898.9 L59.3,899.8 L59.7,900.7 L60.1,901.6 L60.6,902.5 L60.8,902.9 M66.2,913.6 L66.7,914.5 L67.2,915.4 L67.6,916.3 L68.1,917.1 L68.6,918.0 L69.1,918.9 L69.6,919.8 L70.1,920.6 L70.5,921.5 L71.0,922.4 L71.3,922.8 M77.4,933.1 L78.0,934.0 L78.5,934.8 L79.0,935.7 L79.6,936.5 L80.1,937.4 L80.6,938.2 L81.2,939.0 L81.7,939.9 L82.3,940.7 L82.8,941.5 L83.1,942.0 M89.9,951.8 L90.5,952.6 L91.1,953.5 L91.7,954.3 L92.3,955.1 L92.9,955.9 L93.5,956.7 L94.1,957.5 L94.7,958.3 L95.3,959.1 L95.9,959.9 M103.4,969.2 L104.0,970.0 L104.7,970.8 L105.3,971.5 L105.9,972.3 L106.6,973.1 L107.2,973.8 L107.9,974.6 L108.6,975.3 L109.2,976.1 L109.9,976.8 M117.7,985.3 L118.3,986.0 L119.0,986.8 L119.7,987.5 L120.4,988.2 L121.1,988.9 L121.8,989.6 L122.5,990.3 L123.2,991.0 L123.9,991.7 L124.7,992.4 L125.0,992.8 M133.4,1000.7 L134.1,1001.4 L134.9,1002.0 L135.6,1002.7 L136.4,1003.4 L137.1,1004.0 L137.9,1004.7 L138.6,1005.3 L139.4,1006.0 L140.1,1006.6 L140.9,1007.3 M149.8,1014.6 L150.6,1015.2 L151.4,1015.8 L152.2,1016.4 L152.9,1017.0 L153.7,1017.6 L154.5,1018.2 L155.3,1018.8 L156.1,1019.4 L156.9,1020.0 L157.8,1020.6" fill="none" stroke="#1c7e98" stroke-width="3.9"/>
<path d="M746.0,-1.1 L745.2,-0.5 L744.3,0.0 L743.5,0.6 L742.7,1.2 L741.8,1.7 L741.4,2.0 M732.3,8.1 L731.5,8.7 L730.6,9.3 L729.8,9.8 L729.0,10.4 L728.2,11.0 L727.3,11.5 L726.5,12.1 L725.7,12.6 L724.9,13.2 L724.0,13.8 M714.5,20.3 L713.7,20.8 L712.9,21.4 L712.1,22.0 L711.3,22.5 L710.4,23.1 L709.6,23.7 L708.8,24.2 L708.0,24.8 L707.1,25.4 L706.3,26.0 M696.9,32.5 L696.1,33.1 L695.2,33.7 L694.4,34.2 L693.6,34.8 L692.8,35.4 L692.0,36.0 L691.1,36.5 L690.3,37.1 L689.5,37.7 L688.7,38.3 M679.7,44.6 L678.9,45.2 L678.1,45.8 L677.3,46.3 L676.4,46.9 L675.6,47.5 L674.8,48.1 L674.0,48.7 L673.2,49.2 L672.4,49.8 L671.6,50.4 M662.2,57.1 L661.4,57.7 L660.6,58.3 L659.8,58.9 L659.0,59.4 L658.2,60.0 L657.3,60.6 L656.5,61.2 L655.7,61.8 L654.9,62.4 L654.1,63.0 M644.8,69.7 L644.0,70.3 L643.2,70.9 L642.4,71.5 L641.6,72.1 L640.8,72.7 L640.0,73.3 L639.2,73.9 L638.4,74.5 L637.6,75.1 L636.7,75.6 M627.5,82.5 L626.7,83.1 L625.9,83.7 L625.1,84.3 L624.3,84.9 L623.5,85.5 L622.7,86.1 L621.9,86.7 L621.1,87.3 L620.3,87.9 L619.5,88.5 M610.7,95.1 L609.9,95.7 L609.1,96.3 L608.3,96.9 L607.5,97.5 L606.7,98.1 L605.9,98.7 L605.1,99.3 L604.3,99.9 L603.5,100.5 L602.7,101.1 M593.6,108.1 L592.8,108.7 L592.0,109.3 L591.2,109.9 L590.4,110.5 L589.6,111.2 L588.8,111.8 L588.0,112.4 L587.3,113.0 L586.5,113.6 L585.7,114.2 M576.6,121.3 L575.8,121.9 L575.0,122.5 L574.2,123.1 L573.4,123.7 L572.7,124.3 L571.9,125.0 L571.1,125.6 L570.3,126.2 L569.5,126.8 L568.7,127.4 M559.7,134.6 L558.9,135.2 L558.1,135.8 L557.3,136.4 L556.6,137.1 L555.8,137.7 L555.0,138.3 L554.2,138.9 L553.4,139.6 L552.7,140.2 L551.9,140.8 M542.9,148.0 L542.1,148.6 L541.4,149.3 L540.6,149.9 L539.8,150.5 L539.0,151.2 L538.3,151.8 L537.5,152.4 L536.7,153.0 L535.9,153.7 L535.1,154.3 M526.2,161.6 L525.5,162.2 L524.7,162.9 L523.9,163.5 L523.2,164.1 L522.4,164.8 L521.6,165.4 L520.8,166.0 L520.1,166.7 L519.3,167.3 L518.5,168.0 M509.7,175.3 L508.9,175.9 L508.2,176.6 L507.4,177.2 L506.6,177.9 L505.9,178.5 L505.1,179.2 L504.3,179.8 L503.6,180.5 L502.8,181.1 L502.0,181.7 M493.3,189.2 L492.5,189.8 L491.7,190.5 L491.0,191.1 L490.2,191.8 L489.5,192.4 L488.7,193.1 L487.9,193.7 L487.2,194.4 L486.4,195.0 L485.7,195.7 M477.0,203.2 L476.2,203.8 L475.4,204.5 L474.7,205.2 L473.9,205.8 L473.2,206.5 L472.4,207.1 L471.7,207.8 L470.9,208.4 L470.2,209.1 L469.4,209.8 M460.8,217.3 L460.0,218.0 L459.3,218.7 L458.5,219.3 L457.8,220.0 L457.0,220.7 L456.3,221.3 L455.5,222.0 L454.8,222.6 L454.0,223.3 L453.3,224.0 L452.9,224.3 M444.4,232.0 L443.6,232.6 L442.9,233.3 L442.1,234.0 L441.4,234.7 L440.6,235.3 L439.9,236.0 L439.2,236.7 L438.4,237.3 L437.7,238.0 L436.9,238.7 M428.4,246.4 L427.7,247.1 L427.0,247.8 L426.2,248.5 L425.5,249.1 L424.8,249.8 L424.0,250.5 L423.3,251.2 L422.6,251.9 L421.8,252.5 L421.1,253.2 M412.7,261.0 L411.9,261.7 L411.2,262.4 L410.5,263.1 L409.7,263.8 L409.0,264.5 L408.3,265.1 L407.6,265.8 L406.8,266.5 L406.1,267.2 L405.4,267.9 M396.7,276.1 L395.9,276.8 L395.2,277.5 L394.5,278.2 L393.8,278.9 L393.0,279.6 L392.3,280.3 L391.6,281.0 L390.9,281.7 L390.2,282.4 L389.4,283.1 M381.2,291.0 L380.5,291.7 L379.7,292.4 L379.0,293.1 L378.3,293.8 L377.6,294.5 L376.9,295.2 L376.2,295.9 L375.4,296.6 L374.7,297.3 L374.0,298.0 M365.8,306.1 L365.1,306.8 L364.4,307.5 L363.7,308.2 L363.0,308.9 L362.3,309.6 L361.6,310.3 L360.9,311.0 L360.2,311.7 L359.4,312.5 L358.7,313.2 L358.4,313.5 M350.3,321.7 L349.6,322.4 L348.9,323.1 L348.2,323.8 L347.5,324.5 L346.8,325.2 L346.1,326.0 L345.4,326.7 L344.7,327.4 L344.0,328.1 L343.3,328.8 M335.3,337.1 L334.6,337.8 L333.9,338.5 L333.2,339.2 L332.5,339.9 L331.8,340.7 L331.1,341.4 L330.4,342.1 L329.7,342.8 L329.0,343.6 L328.3,344.3 L328.0,344.6 M320.1,353.0 L319.4,353.7 L318.7,354.4 L318.0,355.2 L317.3,355.9 L316.7,356.6 L316.0,357.4 L315.3,358.1 L314.6,358.8 L313.9,359.5 L313.2,360.3 M305.1,369.1 L304.4,369.8 L303.7,370.6 L303.1,371.3 L302.4,372.0 L301.7,372.8 L301.0,373.5 L300.4,374.3 L299.7,375.0 L299.0,375.7 L298.4,376.5 M290.7,385.0 L290.0,385.8 L289.3,386.5 L288.7,387.3 L288.0,388.0 L287.3,388.8 L286.7,389.5 L286.0,390.3 L285.3,391.0 L284.7,391.8 L284.0,392.5 L283.7,392.9 M276.1,401.5 L275.5,402.3 L274.8,403.0 L274.2,403.8 L273.5,404.6 L272.9,405.3 L272.2,406.1 L271.5,406.8 L270.9,407.6 L270.2,408.3 L269.6,409.1 L269.3,409.5 M261.8,418.3 L261.2,419.0 L260.5,419.8 L259.9,420.6 L259.3,421.3 L258.6,422.1 L258.0,422.9 L257.3,423.6 L256.7,424.4 L256.1,425.2 L255.4,425.9 L255.1,426.3 M247.8,435.2 L247.2,436.0 L246.5,436.8 L245.9,437.5 L245.3,438.3 L244.6,439.1 L244.0,439.9 L243.4,440.6 L242.8,441.4 L242.1,442.2 L241.5,443.0 M234.0,452.4 L233.4,453.2 L232.8,453.9 L232.2,454.7 L231.6,455.5 L231.0,456.3 L230.3,457.1 L229.7,457.9 L229.1,458.7 L228.5,459.5 L227.9,460.3 L227.6,460.7 M220.6,469.8 L220.0,470.6 L219.4,471.4 L218.8,472.2 L218.2,473.0 L217.6,473.8 L217.0,474.6 L216.4,475.4 L215.8,476.2 L215.2,477.0 L214.6,477.8 L214.3,478.2 M207.5,487.5 L206.9,488.3 L206.3,489.1 L205.7,489.9 L205.2,490.7 L204.6,491.5 L204.0,492.3 L203.4,493.1 L202.8,493.9 L202.2,494.8 L201.7,495.6 L201.4,496.0 M194.5,505.8 L193.9,506.6 L193.4,507.5 L192.8,508.3 L192.2,509.1 L191.7,509.9 L191.1,510.8 L190.5,511.6 L190.0,512.4 L189.4,513.3 L188.9,514.1 M182.2,524.1 L181.7,524.9 L181.1,525.8 L180.6,526.6 L180.0,527.4 L179.5,528.3 L179.0,529.1 L178.4,530.0 L177.9,530.8 L177.3,531.6 L176.8,532.5 L176.5,532.9 M170.4,542.7 L169.9,543.5 L169.4,544.4 L168.9,545.2 L168.4,546.1 L167.8,546.9 L167.3,547.8 L166.8,548.6 L166.3,549.5 L165.8,550.4 L165.3,551.2 L165.0,551.6 M158.9,562.0 L158.4,562.9 L157.9,563.7 L157.5,564.6 L157.0,565.5 L156.5,566.3 L156.0,567.2 L155.5,568.1 L155.0,569.0 L154.5,569.8 L154.0,570.7 L153.8,571.1 M148.1,581.7 L147.6,582.6 L147.1,583.5 L146.7,584.3 L146.2,585.2 L145.7,586.1 L145.3,587.0 L144.8,587.9 L144.3,588.8 L143.9,589.7 L143.4,590.6 L143.2,591.0 M137.9,601.7 L137.4,602.6 L137.0,603.5 L136.6,604.4 L136.1,605.3 L135.7,606.3 L135.3,607.2 L134.8,608.1 L134.4,609.0 L134.0,609.9 L133.6,610.8 L133.4,611.2 M128.5,622.2 L128.1,623.1 L127.7,624.0 L127.3,624.9 L126.9,625.9 L126.5,626.8 L126.1,627.7 L125.7,628.6 L125.3,629.5 L124.9,630.5 L124.6,631.4 L124.4,631.8 M119.9,643.0 L119.6,643.9 L119.2,644.9 L118.9,645.8 L118.5,646.7 L118.2,647.7 L117.8,648.6 L117.5,649.5 L117.1,650.5 L116.8,651.4 L116.4,652.4 L116.1,653.3 M112.2,664.7 L111.9,665.6 L111.6,666.6 L111.3,667.5 L111.0,668.5 L110.7,669.4 L110.4,670.4 L110.1,671.3 L109.8,672.3 L109.5,673.2 L109.2,674.2 L109.1,674.7 M105.8,686.2 L105.5,687.2 L105.3,688.1 L105.0,689.1 L104.7,690.1 L104.5,691.1 L104.2,692.0 L104.0,693.0 L103.8,694.0 L103.5,694.9 L103.3,695.9 L103.0,696.9 M100.4,708.6 L100.2,709.6 L100.0,710.5 L99.8,711.5 L99.6,712.5 L99.4,713.5 L99.2,714.5 L99.1,715.4 L98.9,716.4 L98.7,717.4 L98.5,718.4 L98.3,719.4 M96.4,731.2 L96.3,732.2 L96.2,733.2 L96.0,734.2 L95.9,735.2 L95.8,736.2 L95.6,737.2 L95.5,738.2 L95.4,739.2 L95.3,740.2 L95.2,741.2 L95.1,742.1 M94.0,754.1 L93.9,755.1 L93.8,756.1 L93.8,757.1 L93.7,758.1 L93.7,759.1 L93.6,760.1 L93.6,761.1 L93.5,762.1 L93.5,763.1 L93.4,764.1 L93.4,765.1 M93.2,777.1 L93.2,778.1 L93.2,779.1 L93.2,780.1 L93.2,781.1 L93.3,782.1 L93.3,783.1 L93.3,784.1 L93.3,785.1 L93.4,786.1 L93.4,787.1 L93.5,788.1 M94.2,800.0 L94.3,801.0 L94.4,802.0 L94.5,803.0 L94.6,804.0 L94.7,805.0 L94.8,806.0 L94.9,807.0 L95.0,808.0 L95.2,809.0 L95.3,810.0 L95.4,811.0 M97.2,822.8 L97.4,823.8 L97.5,824.8 L97.7,825.8 L97.9,826.8 L98.1,827.8 L98.3,828.7 L98.5,829.7 L98.7,830.7 L98.9,831.7 L99.1,832.7 L99.3,833.6 M102.1,845.3 L102.3,846.3 L102.6,847.3 L102.8,848.2 L103.1,849.2 L103.4,850.1 L103.6,851.1 L103.9,852.1 L104.2,853.0 L104.5,854.0 L104.8,854.9 L105.0,855.9 M108.8,867.3 L109.1,868.3 L109.4,869.2 L109.8,870.1 L110.1,871.1 L110.5,872.0 L110.8,872.9 L111.2,873.9 L111.5,874.8 L111.9,875.8 L112.3,876.7 L112.4,877.1 M117.1,888.2 L117.5,889.1 L117.9,890.0 L118.3,891.0 L118.7,891.9 L119.1,892.8 L119.6,893.7 L120.0,894.6 L120.4,895.5 L120.9,896.4 L121.3,897.3 L121.5,897.7 M127.0,908.4 L127.5,909.3 L128.0,910.1 L128.5,911.0 L129.0,911.9 L129.5,912.7 L130.0,913.6 L130.5,914.5 L131.0,915.3 L131.5,916.2 L132.0,917.1 L132.3,917.5 M138.6,927.7 L139.2,928.5 L139.7,929.3 L140.3,930.1 L140.9,931.0 L141.4,931.8 L142.0,932.6 L142.6,933.4 L143.1,934.3 L143.7,935.1 L144.3,935.9 L144.6,936.3 M151.5,945.5 L152.1,946.3 L152.7,947.1 L153.4,947.8 L154.0,948.6 L154.6,949.4 L155.3,950.2 L155.9,950.9 L156.6,951.7 L157.2,952.5 L157.8,953.2 L158.2,953.6 M165.8,962.2 L166.5,962.9 L167.2,963.6 L167.9,964.4 L168.6,965.1 L169.3,965.8 L170.0,966.5 L170.7,967.2 L171.4,967.9 L172.1,968.6 L172.8,969.3 M181.2,977.2 L181.9,977.9 L182.7,978.5 L183.4,979.2 L184.2,979.9 L184.9,980.5 L185.7,981.2 L186.5,981.8 L187.2,982.5 L188.0,983.1 L188.8,983.7 L189.2,984.1 M197.8,990.8 L198.6,991.4 L199.4,992.0 L200.2,992.6 L201.0,993.2 L201.9,993.8 L202.7,994.4 L203.5,994.9 L204.3,995.5 L205.1,996.1 L205.9,996.7 M215.6,1002.9 L216.5,1003.4 L217.3,1003.9 L218.2,1004.5 L219.0,1005.0 L219.9,1005.5 L220.8,1006.0 L221.6,1006.5 L222.5,1007.0 L223.4,1007.5 L224.2,1007.9 M234.0,1013.1 L234.9,1013.5 L235.8,1013.9 L236.7,1014.4 L237.6,1014.8 L238.5,1015.2 L239.4,1015.6 L240.3,1016.1 L241.2,1016.5 L242.1,1016.9 L242.6,1017.1" fill="none" stroke="#1c7e98" stroke-width="3.9"/>
<path d="M750.4,345.5 L749.4,345.8 L748.4,346.1 L747.5,346.4 L746.5,346.7 L745.6,347.0 L744.6,347.3 L743.7,347.6 L742.7,347.8 L741.7,348.1 L740.8,348.4 L739.8,348.7 L738.9,349.0 L737.9,349.3 M723.6,353.7 L722.6,354.0 L721.7,354.3 L720.7,354.6 L719.8,354.9 L718.8,355.2 L717.9,355.5 L716.9,355.8 L716.0,356.1 L715.0,356.4 L714.1,356.7 L713.1,357.0 L712.1,357.3 L711.7,357.5 M697.4,362.0 L696.4,362.3 L695.5,362.6 L694.5,362.9 L693.6,363.2 L692.6,363.5 L691.7,363.8 L690.7,364.1 L689.8,364.4 L688.8,364.7 L687.9,365.0 L686.9,365.3 L685.9,365.6 L685.0,365.9 M670.7,370.6 L669.8,370.9 L668.8,371.2 L667.9,371.5 L666.9,371.8 L666.0,372.1 L665.0,372.4 L664.1,372.7 L663.1,373.1 L662.2,373.4 L661.2,373.7 L660.3,374.0 L659.3,374.3 L658.9,374.5 M644.6,379.2 L643.7,379.5 L642.8,379.9 L641.8,380.2 L640.9,380.5 L639.9,380.8 L639.0,381.2 L638.0,381.5 L637.1,381.8 L636.1,382.1 L635.2,382.4 L634.2,382.8 L633.3,383.1 L632.3,383.4 M618.2,388.3 L617.2,388.6 L616.3,389.0 L615.3,389.3 L614.4,389.6 L613.4,390.0 L612.5,390.3 L611.6,390.6 L610.6,390.9 L609.7,391.3 L608.7,391.6 L607.8,391.9 L606.8,392.3 L606.4,392.4 M591.8,397.7 L590.8,398.0 L589.9,398.3 L589.0,398.7 L588.0,399.0 L587.1,399.4 L586.1,399.7 L585.2,400.0 L584.3,400.4 L583.3,400.7 L582.4,401.1 L581.5,401.4 L580.5,401.8 L580.0,401.9 M566.0,407.1 L565.0,407.5 L564.1,407.8 L563.2,408.2 L562.2,408.5 L561.3,408.9 L560.4,409.2 L559.4,409.6 L558.5,410.0 L557.6,410.3 L556.6,410.7 L555.7,411.0 L554.8,411.4 L553.8,411.7 M539.8,417.1 L538.9,417.5 L538.0,417.8 L537.0,418.2 L536.1,418.6 L535.2,418.9 L534.2,419.3 L533.3,419.7 L532.4,420.0 L531.5,420.4 L530.5,420.8 L529.6,421.1 L528.7,421.5 L528.2,421.7 M513.8,427.4 L512.9,427.8 L512.0,428.2 L511.0,428.6 L510.1,428.9 L509.2,429.3 L508.3,429.7 L507.3,430.1 L506.4,430.5 L505.5,430.8 L504.6,431.2 L503.6,431.6 L502.7,432.0 L502.2,432.2 M487.9,438.1 L487.0,438.5 L486.1,438.9 L485.2,439.3 L484.3,439.7 L483.3,440.1 L482.4,440.5 L481.5,440.9 L480.6,441.3 L479.7,441.7 L478.7,442.0 L477.8,442.4 L476.9,442.8 L476.5,443.0 M462.7,449.0 L461.8,449.4 L460.9,449.8 L460.0,450.2 L459.0,450.6 L458.1,451.0 L457.2,451.4 L456.3,451.8 L455.4,452.3 L454.5,452.7 L453.6,453.1 L452.7,453.5 L451.7,453.9 L450.8,454.3 M437.2,460.5 L436.3,460.9 L435.4,461.3 L434.5,461.8 L433.6,462.2 L432.6,462.6 L431.7,463.0 L430.8,463.5 L429.9,463.9 L429.0,464.3 L428.1,464.7 L427.2,465.2 L426.3,465.6 L425.4,466.0 M411.9,472.6 L411.0,473.0 L410.1,473.5 L409.3,473.9 L408.4,474.4 L407.5,474.8 L406.6,475.3 L405.7,475.7 L404.8,476.2 L403.9,476.7 L403.0,477.1 L402.1,477.6 L401.2,478.0 L400.4,478.5 M386.7,485.9 L385.9,486.4 L385.0,486.8 L384.1,487.3 L383.2,487.8 L382.4,488.3 L381.5,488.8 L380.6,489.3 L379.8,489.8 L378.9,490.3 L378.0,490.8 L377.2,491.3 L376.3,491.8 L375.9,492.1 M362.7,500.2 L361.9,500.7 L361.0,501.3 L360.2,501.8 L359.3,502.4 L358.5,502.9 L357.7,503.5 L356.8,504.0 L356.0,504.6 L355.2,505.1 L354.3,505.7 L353.5,506.3 L352.7,506.8 L351.9,507.4 M339.3,516.5 L338.5,517.1 L337.7,517.7 L336.9,518.3 L336.1,518.9 L335.4,519.5 L334.6,520.1 L333.8,520.8 L333.0,521.4 L332.2,522.0 L331.5,522.6 L330.7,523.3 L329.9,523.9 L329.1,524.6 M317.5,534.8 L316.8,535.5 L316.1,536.2 L315.4,536.9 L314.6,537.6 L313.9,538.3 L313.2,539.0 L312.5,539.7 L311.8,540.4 L311.1,541.1 L310.4,541.8 L309.7,542.5 L309.0,543.2 L308.3,544.0 L308.0,544.3 M297.4,556.4 L296.8,557.1 L296.2,557.9 L295.6,558.7 L294.9,559.5 L294.3,560.3 L293.7,561.1 L293.1,561.9 L292.5,562.7 L291.9,563.5 L291.3,564.3 L290.7,565.1 L290.2,565.9 L289.6,566.7" fill="none" stroke="#1c7e98" stroke-width="3.9"/>
<path d="M750.1,448.1 L749.1,448.3 L748.2,448.4 L747.2,448.6 L746.2,448.8 L745.2,448.9 L744.2,449.1 L743.2,449.3 L742.2,449.4 L741.3,449.6 L740.8,449.7 M729.9,451.5 L728.9,451.6 L727.9,451.8 L727.0,451.9 L726.0,452.1 L725.0,452.3 L724.0,452.4 L723.0,452.6 L722.0,452.7 L721.0,452.9 L720.5,453.0 M709.2,454.8 L708.2,455.0 L707.2,455.1 L706.2,455.3 L705.2,455.4 L704.2,455.6 L703.3,455.7 L702.3,455.9 L701.3,456.1 L700.3,456.2 L699.8,456.3 M688.9,458.0 L688.0,458.2 L687.0,458.3 L686.0,458.5 L685.0,458.6 L684.0,458.8 L683.0,458.9 L682.0,459.1 L681.0,459.2 L680.0,459.4 L679.6,459.5 M668.2,461.2 L667.2,461.4 L666.2,461.5 L665.2,461.7 L664.2,461.9 L663.3,462.0 L662.3,462.2 L661.3,462.3 L660.3,462.5 L659.3,462.6 M647.9,464.4 L647.0,464.6 L646.0,464.7 L645.0,464.9 L644.0,465.0 L643.0,465.2 L642.0,465.3 L641.0,465.5 L640.0,465.7 L639.1,465.8 L638.6,465.9 M627.7,467.6 L626.7,467.8 L625.7,467.9 L624.7,468.1 L623.7,468.3 L622.8,468.4 L621.8,468.6 L620.8,468.7 L619.8,468.9 L618.8,469.1 L618.3,469.1 M607.0,471.0 L606.0,471.2 L605.0,471.3 L604.0,471.5 L603.0,471.7 L602.0,471.8 L601.1,472.0 L600.1,472.1 L599.1,472.3 L598.1,472.5 M586.8,474.4 L585.8,474.6 L584.8,474.8 L583.8,474.9 L582.8,475.1 L581.8,475.3 L580.9,475.4 L579.9,475.6 L578.9,475.8 L577.9,476.0 L577.4,476.1 M566.6,478.0 L565.6,478.2 L564.6,478.4 L563.6,478.5 L562.6,478.7 L561.7,478.9 L560.7,479.1 L559.7,479.3 L558.7,479.4 L557.7,479.6 L557.2,479.7 M545.9,481.9 L545.0,482.0 L544.0,482.2 L543.0,482.4 L542.0,482.6 L541.0,482.8 L540.1,483.0 L539.1,483.2 L538.1,483.4 L537.1,483.6 L536.6,483.7 M525.8,485.9 L524.9,486.1 L523.9,486.3 L522.9,486.5 L521.9,486.7 L520.9,486.9 L520.0,487.1 L519.0,487.3 L518.0,487.5 L517.0,487.7 L516.5,487.8 M505.3,490.3 L504.3,490.5 L503.4,490.7 L502.4,490.9 L501.4,491.1 L500.4,491.4 L499.5,491.6 L498.5,491.8 L497.5,492.0 L496.5,492.2 M485.3,494.9 L484.4,495.1 L483.4,495.3 L482.4,495.6 L481.4,495.8 L480.5,496.0 L479.5,496.3 L478.5,496.5 L477.6,496.7 L476.6,497.0 L476.1,497.1 M465.0,499.9 L464.0,500.2 L463.0,500.4 L462.1,500.7 L461.1,500.9 L460.1,501.2 L459.2,501.4 L458.2,501.7 L457.2,502.0 L456.3,502.2 M445.2,505.3 L444.2,505.5 L443.2,505.8 L442.3,506.1 L441.3,506.3 L440.4,506.6 L439.4,506.9 L438.4,507.2 L437.5,507.5 L436.5,507.7 L436.0,507.9 M425.1,511.3 L424.1,511.6 L423.2,511.9 L422.2,512.2 L421.3,512.5 L420.3,512.9 L419.4,513.2 L418.4,513.5 L417.5,513.8 L416.5,514.2 L416.1,514.3 M405.3,518.4 L404.4,518.8 L403.4,519.1 L402.5,519.5 L401.6,519.9 L400.7,520.3 L399.8,520.7 L398.8,521.1 L397.9,521.5 L397.0,521.9 L396.5,522.1 M386.2,527.0 L385.3,527.5 L384.4,528.0 L383.5,528.4 L382.6,528.9 L381.8,529.4 L380.9,529.9 L380.0,530.4 L379.1,530.8 L378.3,531.3 L377.8,531.6 M368.1,537.7 L367.3,538.3 L366.5,538.9 L365.6,539.4 L364.8,540.0 L364.0,540.6 L363.2,541.2 L362.4,541.8 L361.6,542.4 L360.8,543.0 L360.4,543.3" fill="none" stroke="#1c7e98" stroke-width="3.9"/>
<path d="M456.4,118.0 L486.9,106.2 L474.5,103.3 L475.8,89.2 Z" fill="#2887a0"/>
<path d="M220.1,339.9 L248.5,322.8 L235.8,322.2 L235.1,308.0 Z" fill="#2887a0"/>
<path d="M82.3,537.5 L105.6,512.6 L93.2,515.7 L89.2,502.3 Z" fill="#2887a0"/>
<path d="M34.6,828.3 L36.5,792.3 L29.3,804.1 L18.2,797.3 Z" fill="#2887a0"/>
<path d="M121.4,989.2 L105.1,958.2 L105.0,972.3 L92.3,973.6 Z" fill="#2887a0"/>
<path d="M414.1,259.6 L443.9,245.6 L431.3,243.6 L431.9,229.5 Z" fill="#2887a0"/>
<path d="M213.8,478.9 L240.7,459.1 L228.1,459.6 L226.3,445.6 Z" fill="#2887a0"/>
<path d="M93.9,795.8 L101.1,760.6 L92.3,770.8 L82.3,762.1 Z" fill="#2887a0"/>
<path d="M173.1,969.6 L156.3,938.8 L156.4,953.0 L143.8,954.5 Z" fill="#2887a0"/>
<path d="M591.7,397.7 L624.0,397.1 L613.0,390.0 L618.2,377.1 Z" fill="#2887a0"/>
<path d="M305.5,547.0 L334.3,530.6 L321.6,529.6 L321.2,515.5 Z" fill="#2887a0"/>
<path d="M597.0,472.7 L628.9,477.9 L619.1,468.9 L626.1,457.1 Z" fill="#2887a0"/>
<path d="M387.2,526.5 L419.2,522.1 L407.7,516.4 L411.6,502.9 Z" fill="#2887a0"/>
<path d="M750.9,147.8 L749.5,148.5 L748.2,149.2 L746.9,149.9 L745.5,150.6 L744.2,151.3 L742.9,152.0 L741.6,152.7 L740.2,153.4 L738.9,154.1 L737.6,154.8 L736.3,155.5 L734.9,156.2 L733.6,156.9 L732.3,157.6 L731.0,158.3 L729.6,159.0 L728.3,159.7 L727.0,160.4 L725.7,161.1 L724.3,161.8 L723.0,162.5 L721.7,163.2 L720.4,164.0 L719.0,164.7 L717.7,165.4 L716.4,166.1 L715.1,166.8 L713.7,167.5 L712.4,168.2 L711.1,168.9 L709.8,169.6 L708.5,170.4 L707.1,171.1 L705.8,171.8 L704.5,172.5 L703.2,173.2 L701.8,173.9 L700.5,174.7 L699.2,175.4 L697.9,176.1 L696.6,176.8 L695.3,177.5 L693.9,178.3 L692.6,179.0 L691.3,179.7 L690.0,180.4 L688.7,181.2 L687.4,181.9 L686.0,182.6 L684.7,183.3 L683.4,184.1 L682.1,184.8 L680.8,185.5 L679.5,186.3 L678.1,187.0 L676.8,187.7 L675.5,188.4 L674.2,189.2 L672.9,189.9 L671.6,190.6 L670.3,191.4 L669.0,192.1 L667.6,192.9 L666.3,193.6 L665.0,194.3 L663.7,195.1 L662.4,195.8 L661.1,196.5 L659.8,197.3 L658.5,198.0 L657.2,198.8 L655.9,199.5 L654.6,200.3 L653.3,201.0 L651.9,201.7 L650.6,202.5 L649.3,203.2 L648.0,204.0 L646.7,204.7 L645.4,205.5 L644.1,206.2 L642.8,207.0 L641.5,207.7 L640.2,208.5 L638.9,209.2 L637.6,210.0 L636.3,210.8 L635.0,211.5 L633.7,212.3 L632.4,213.0 L631.1,213.8 L629.8,214.5 L628.5,215.3 L627.2,216.1 L625.9,216.8 L624.6,217.6 L623.3,218.3 L622.0,219.1 L620.7,219.9 L619.4,220.6 L618.1,221.4 L616.8,222.2 L615.5,222.9 L614.2,223.7 L613.0,224.5 L611.7,225.2 L610.4,226.0 L609.1,226.8 L607.8,227.6 L606.5,228.3 L605.2,229.1 L603.9,229.9 L602.6,230.7 L601.3,231.4 L600.1,232.2 L598.8,233.0 L597.5,233.8 L596.2,234.6 L594.9,235.3 L593.6,236.1 L592.3,236.9 L591.1,237.7 L589.8,238.5 L588.5,239.3 L587.2,240.0 L585.9,240.8 L584.6,241.6 L583.4,242.4 L582.1,243.2 L580.8,244.0 L579.5,244.8 L578.2,245.6 L577.0,246.4 L575.7,247.2 L574.4,248.0 L573.1,248.8 L571.9,249.6 L570.6,250.4 L569.3,251.2 L568.0,252.0 L566.8,252.8 L565.5,253.6 L564.2,254.4 L563.0,255.2 L561.7,256.0 L560.4,256.8 L559.1,257.6 L557.9,258.4 L556.6,259.2 L555.3,260.0 L554.1,260.8 L552.8,261.6 L551.5,262.5 L550.3,263.3 L549.0,264.1 L547.8,264.9 L546.5,265.7 L545.2,266.5 L544.0,267.3 L542.7,268.2 L541.4,269.0 L540.2,269.8 L538.9,270.6 L537.7,271.5 L536.4,272.3 L535.2,273.1 L533.9,273.9 L532.6,274.8 L531.4,275.6 L530.1,276.4 L528.9,277.3 L527.6,278.1 L526.4,278.9 L525.1,279.7 L523.9,280.6 L522.6,281.4 L521.4,282.3 L520.1,283.1 L518.9,283.9 L517.6,284.8 L516.4,285.6 L515.1,286.5 L513.9,287.3 L512.6,288.1 L511.4,289.0 L510.2,289.8 L508.9,290.7 L507.7,291.5 L506.4,292.4 L505.2,293.2 L504.0,294.1 L502.7,294.9 L501.5,295.8 L500.2,296.6 L499.0,297.5 L497.8,298.3 L496.5,299.2 L495.3,300.1 L494.1,300.9 L492.8,301.8 L491.6,302.6 L490.4,303.5 L489.1,304.4 L487.9,305.2 L486.7,306.1 L485.5,307.0 L484.2,307.8 L483.0,308.7 L481.8,309.6 L480.6,310.5 L479.3,311.3 L478.1,312.2 L476.9,313.1 L475.7,314.0 L474.5,314.8 L473.2,315.7 L472.0,316.6 L470.8,317.5 L469.6,318.4 L468.4,319.2 L467.1,320.1 L465.9,321.0 L464.7,321.9 L463.5,322.8 L462.3,323.7 L461.1,324.6 L459.9,325.4 L458.7,326.3 L457.5,327.2 L456.2,328.1 L455.0,329.0 L453.8,329.9 L452.6,330.8 L451.4,331.7 L450.2,332.6 L449.0,333.5 L447.8,334.4 L446.6,335.3 L445.4,336.2 L444.2,337.1 L443.0,338.0 L441.8,339.0 L440.6,339.9 L439.4,340.8 L438.2,341.7 L437.0,342.6 L435.9,343.5 L434.7,344.4 L433.5,345.3 L432.3,346.3 L431.1,347.2 L429.9,348.1 L428.7,349.0 L427.5,349.9 L426.4,350.9 L425.2,351.8 L424.0,352.7 L422.8,353.7 L421.6,354.6 L420.4,355.5 L419.3,356.4 L418.1,357.4 L416.9,358.3 L415.7,359.2 L414.6,360.2 L413.4,361.1 L412.2,362.1 L411.0,363.0 L409.9,363.9 L408.7,364.9 L407.5,365.8 L406.4,366.8 L405.2,367.7 L404.0,368.7 L402.9,369.6 L401.7,370.6 L400.6,371.5 L399.4,372.5 L398.2,373.4 L397.1,374.4 L395.9,375.4 L394.8,376.3 L393.6,377.3 L392.5,378.2 L391.3,379.2 L390.2,380.2 L389.0,381.1 L387.9,382.1 L386.7,383.1 L385.6,384.0 L384.4,385.0 L383.3,386.0 L382.1,387.0 L381.0,387.9 L379.9,388.9 L378.7,389.9 L377.6,390.9 L376.4,391.9 L375.3,392.9 L374.2,393.8 L373.0,394.8 L371.9,395.8 L370.8,396.8 L369.6,397.8 L368.5,398.8 L367.4,399.8 L366.3,400.8 L365.1,401.8 L364.0,402.8 L362.9,403.8 L361.8,404.8 L360.7,405.8 L359.5,406.8 L358.4,407.8 L357.3,408.8 L356.2,409.8 L355.1,410.8 L354.0,411.8 L352.9,412.8 L351.8,413.9 L350.7,414.9 L349.6,415.9 L348.5,416.9 L347.4,417.9 L346.3,419.0 L345.2,420.0 L344.1,421.0 L343.0,422.0 L341.9,423.1 L340.8,424.1 L339.7,425.1 L338.6,426.2 L337.5,427.2 L336.4,428.2 L335.3,429.3 L334.2,430.3 L333.2,431.4 L332.1,432.4 L331.0,433.4 L329.9,434.5 L328.8,435.5 L327.8,436.6 L326.7,437.6 L325.6,438.7 L324.5,439.8 L323.5,440.8 L322.4,441.9 L321.3,442.9 L320.3,444.0 L319.2,445.1 L318.1,446.1 L317.1,447.2 L316.0,448.3 L315.0,449.3 L313.9,450.4 L312.9,451.5 L311.8,452.5 L310.8,453.6 L309.7,454.7 L308.7,455.8 L307.6,456.9 L306.6,458.0 L305.5,459.0 L304.5,460.1 L303.4,461.2 L302.4,462.3 L301.4,463.4 L300.3,464.5 L299.3,465.6 L298.3,466.7 L297.2,467.8 L296.2,468.9 L295.2,470.0 L294.2,471.1 L293.1,472.2 L292.1,473.3 L291.1,474.4 L290.1,475.5 L289.1,476.7 L288.1,477.8 L287.0,478.9 L286.0,480.0 L285.0,481.1 L284.0,482.3 L283.0,483.4 L282.0,484.5 L281.0,485.6 L280.0,486.8 L279.0,487.9 L278.0,489.0 L277.0,490.2 L276.1,491.3 L275.1,492.5 L274.1,493.6 L273.1,494.7 L272.1,495.9 L271.2,497.0 L270.2,498.2 L269.2,499.3 L268.2,500.5 L267.3,501.7 L266.3,502.8 L265.4,504.0 L264.4,505.1 L263.4,506.3 L262.5,507.5 L261.5,508.6 L260.6,509.8 L259.6,511.0 L258.7,512.2 L257.8,513.3 L256.8,514.5 L255.9,515.7 L255.0,516.9 L254.0,518.1 L253.1,519.3 L252.2,520.5 L251.3,521.6 L250.4,522.8 L249.4,524.0 L248.5,525.2 L247.6,526.4 L246.7,527.6 L245.8,528.9 L244.9,530.1 L244.0,531.3 L243.2,532.5 L242.3,533.7 L241.4,534.9 L240.5,536.1 L239.6,537.4 L238.7,538.6 L237.9,539.8 L237.0,541.0 L236.1,542.3 L235.3,543.5 L234.4,544.7 L233.6,546.0 L232.7,547.2 L231.9,548.5 L231.0,549.7 L230.2,551.0 L229.4,552.2 L228.5,553.5 L227.7,554.7 L226.9,556.0 L226.1,557.2 L225.3,558.5 L224.4,559.8 L223.6,561.0 L222.8,562.3 L222.0,563.6 L221.2,564.9 L220.4,566.1 L219.7,567.4 L218.9,568.7 L218.1,570.0 L217.3,571.3 L216.6,572.6 L215.8,573.9 L215.0,575.2 L214.3,576.5 L213.5,577.8 L212.8,579.1 L212.0,580.4 L211.3,581.7 L210.5,583.0 L209.8,584.3 L209.1,585.6 L208.3,586.9 L207.6,588.3 L206.9,589.6 L206.2,590.9 L205.5,592.2 L204.8,593.6 L204.1,594.9 L203.4,596.2 L202.7,597.6 L202.0,598.9 L201.4,600.3 L200.7,601.6 L200.0,603.0 L199.4,604.3 L198.7,605.7 L198.1,607.0 L197.4,608.4 L196.8,609.7 L196.1,611.1 L195.5,612.5 L194.9,613.8 L194.3,615.2 L193.6,616.6 L193.0,617.9 L192.4,619.3 L191.8,620.7 L191.2,622.1 L190.6,623.5 L190.1,624.9 L189.5,626.2 L188.9,627.6 L188.3,629.0 L187.8,630.4 L187.2,631.8 L186.7,633.2 L186.1,634.6 L185.6,636.0 L185.1,637.4 L184.5,638.8 L184.0,640.2 L183.5,641.6 L183.0,643.1 L182.5,644.5 L182.0,645.9 L181.5,647.3 L181.0,648.7 L180.6,650.2 L180.1,651.6 L179.6,653.0 L179.2,654.4 L178.7,655.9 L178.3,657.3 L177.8,658.7 L177.4,660.2 L177.0,661.6 L176.6,663.1 L176.2,664.5 L175.7,665.9 L175.4,667.4 L175.0,668.8 L174.6,670.3 L174.2,671.7 L173.8,673.2 L173.5,674.7 L173.1,676.1 L172.8,677.6 L172.4,679.0 L172.1,680.5 L171.7,682.0 L171.4,683.4 L171.1,684.9 L170.8,686.4 L170.5,687.8 L170.2,689.3 L169.9,690.8 L169.6,692.3 L169.4,693.7 L169.1,695.2 L168.8,696.7 L168.6,698.2 L168.4,699.7 L168.1,701.1 L167.9,702.6 L167.7,704.1 L167.5,705.6 L167.3,707.1 L167.1,708.6 L166.9,710.1 L166.7,711.6 L166.5,713.1 L166.4,714.6 L166.2,716.1 L166.1,717.6 L165.9,719.1 L165.8,720.6 L165.7,722.1 L165.5,723.6 L165.4,725.1 L165.3,726.6 L165.2,728.1 L165.2,729.6 L165.1,731.1 L165.0,732.6 L164.9,734.1 L164.9,735.6 L164.8,737.1 L164.8,738.6 L164.8,740.2 L164.8,741.7 L164.7,743.2 L164.7,744.7 L164.7,746.2 L164.8,747.7 L164.8,749.2 L164.8,750.7 L164.9,752.2 L164.9,753.7 L165.0,755.2 L165.0,756.7 L165.1,758.2 L165.2,759.7 L165.3,761.2 L165.4,762.7 L165.5,764.2 L165.6,765.8 L165.7,767.3 L165.8,768.8 L166.0,770.2 L166.1,771.7 L166.3,773.2 L166.5,774.7 L166.6,776.2 L166.8,777.7 L167.0,779.2 L167.2,780.7 L167.4,782.2 L167.6,783.7 L167.9,785.2 L168.1,786.7 L168.4,788.1 L168.6,789.6 L168.9,791.1 L169.2,792.6 L169.4,794.0 L169.7,795.5 L170.0,797.0 L170.3,798.5 L170.7,799.9 L171.0,801.4 L171.3,802.8 L171.7,804.3 L172.0,805.8 L172.4,807.2 L172.8,808.7 L173.2,810.1 L173.6,811.6 L174.0,813.0 L174.4,814.5 L174.8,815.9 L175.3,817.3 L175.7,818.8 L176.2,820.2 L176.6,821.6 L177.1,823.0 L177.6,824.4 L178.1,825.9 L178.6,827.3 L179.1,828.7 L179.6,830.1 L180.2,831.5 L180.7,832.9 L181.3,834.3 L181.8,835.7 L182.4,837.0 L183.0,838.4 L183.6,839.8 L184.2,841.2 L184.8,842.5 L185.5,843.9 L186.1,845.3 L186.8,846.6 L187.4,848.0 L188.1,849.3 L188.8,850.6 L189.5,852.0 L190.2,853.3 L190.9,854.6 L191.6,856.0 L192.4,857.3 L193.1,858.6 L193.9,859.9 L194.7,861.2 L195.5,862.5 L196.2,863.8 L197.1,865.0 L197.9,866.3" fill="none" stroke="#0b4455" stroke-width="4.4"/>
<path d="M749.9,228.3 L748.5,228.8 L747.1,229.4 L745.7,229.9 L744.3,230.5 L742.9,231.0 L741.5,231.6 L740.1,232.2 L738.7,232.8 L737.3,233.4 L736.0,234.0 L734.6,234.6 L733.2,235.2 L731.8,235.8 L730.4,236.4 L729.1,237.0 L727.7,237.6 L726.3,238.2 L725.0,238.9 L723.6,239.5 L722.2,240.1 L720.9,240.8 L719.5,241.4 L718.2,242.1 L716.8,242.7 L715.5,243.4 L714.1,244.0 L712.8,244.7 L711.4,245.4 L710.1,246.0 L708.7,246.7 L707.4,247.4 L706.0,248.1 L704.7,248.8 L703.4,249.4 L702.0,250.1 L700.7,250.8 L699.4,251.5 L698.0,252.2 L696.7,252.9 L695.4,253.6 L694.0,254.3 L692.7,255.0 L691.4,255.8 L690.1,256.5 L688.7,257.2 L687.4,257.9 L686.1,258.6 L684.8,259.3 L683.4,260.1 L682.1,260.8 L680.8,261.5 L679.5,262.2 L678.2,263.0 L676.9,263.7 L675.5,264.4 L674.2,265.2 L672.9,265.9 L671.6,266.6 L670.3,267.4 L669.0,268.1 L667.7,268.9 L666.4,269.6 L665.1,270.3 L663.7,271.1 L662.4,271.8 L661.1,272.6 L659.8,273.3 L658.5,274.1 L657.2,274.8 L655.9,275.6 L654.6,276.3 L653.3,277.1 L652.0,277.8 L650.7,278.5 L649.4,279.3 L648.0,280.0 L646.7,280.8 L645.4,281.5 L644.1,282.3 L642.8,283.0 L641.5,283.8 L640.2,284.5 L638.9,285.3 L637.6,286.0 L636.3,286.8 L635.0,287.5 L633.7,288.3 L632.3,289.0 L631.0,289.8 L629.7,290.5 L628.4,291.2 L627.1,292.0 L625.8,292.7 L624.5,293.5 L623.2,294.2 L621.9,295.0 L620.6,295.7 L619.3,296.5 L618.0,297.2 L616.6,298.0 L615.3,298.7 L614.0,299.5 L612.7,300.2 L611.4,301.0 L610.1,301.7 L608.8,302.5 L607.5,303.2 L606.2,304.0 L604.9,304.7 L603.6,305.5 L602.3,306.2 L600.9,307.0 L599.6,307.7 L598.3,308.4 L597.0,309.2 L595.7,309.9 L594.4,310.7 L593.1,311.4 L591.8,312.2 L590.5,312.9 L589.2,313.7 L587.9,314.4 L586.6,315.2 L585.3,315.9 L584.0,316.7 L582.6,317.4 L581.3,318.2 L580.0,318.9 L578.7,319.7 L577.4,320.5 L576.1,321.2 L574.8,322.0 L573.5,322.7 L572.2,323.5 L570.9,324.2 L569.6,325.0 L568.3,325.7 L567.0,326.5 L565.7,327.2 L564.4,328.0 L563.1,328.7 L561.8,329.5 L560.5,330.3 L559.2,331.0 L557.9,331.8 L556.6,332.5 L555.3,333.3 L554.0,334.1 L552.7,334.8 L551.4,335.6 L550.1,336.3 L548.8,337.1 L547.5,337.9 L546.2,338.6 L544.9,339.4 L543.6,340.2 L542.3,340.9 L541.0,341.7 L539.7,342.4 L538.4,343.2 L537.1,344.0 L535.8,344.8 L534.5,345.5 L533.2,346.3 L531.9,347.1 L530.6,347.8 L529.3,348.6 L528.1,349.4 L526.8,350.1 L525.5,350.9 L524.2,351.7 L522.9,352.5 L521.6,353.3 L520.3,354.0 L519.0,354.8 L517.7,355.6 L516.5,356.4 L515.2,357.1 L513.9,357.9 L512.6,358.7 L511.3,359.5 L510.0,360.3 L508.7,361.1 L507.5,361.9 L506.2,362.6 L504.9,363.4 L503.6,364.2 L502.3,365.0 L501.1,365.8 L499.8,366.6 L498.5,367.4 L497.2,368.2 L495.9,369.0 L494.7,369.8 L493.4,370.6 L492.1,371.4 L490.8,372.2 L489.6,373.0 L488.3,373.8 L487.0,374.6 L485.8,375.4 L484.5,376.2 L483.2,377.0 L481.9,377.8 L480.7,378.6 L479.4,379.4 L478.1,380.3 L476.9,381.1 L475.6,381.9 L474.4,382.7 L473.1,383.5 L471.8,384.3 L470.6,385.2 L469.3,386.0 L468.0,386.8 L466.8,387.6 L465.5,388.5 L464.3,389.3 L463.0,390.1 L461.8,390.9 L460.5,391.8 L459.3,392.6 L458.0,393.4 L456.7,394.3 L455.5,395.1 L454.2,396.0 L453.0,396.8 L451.8,397.6 L450.5,398.5 L449.3,399.3 L448.0,400.2 L446.8,401.0 L445.5,401.9 L444.3,402.7 L443.0,403.6 L441.8,404.4 L440.6,405.3 L439.3,406.2 L438.1,407.0 L436.9,407.9 L435.6,408.7 L434.4,409.6 L433.2,410.5 L431.9,411.3 L430.7,412.2 L429.5,413.1 L428.2,413.9 L427.0,414.8 L425.8,415.7 L424.6,416.6 L423.3,417.5 L422.1,418.3 L420.9,419.2 L419.7,420.1 L418.5,421.0 L417.2,421.9 L416.0,422.8 L414.8,423.7 L413.6,424.5 L412.4,425.4 L411.2,426.3 L409.9,427.2 L408.7,428.1 L407.5,429.0 L406.3,429.9 L405.1,430.8 L403.9,431.7 L402.7,432.6 L401.5,433.6 L400.3,434.5 L399.1,435.4 L397.9,436.3 L396.7,437.2 L395.5,438.1 L394.3,439.0 L393.1,440.0 L391.9,440.9 L390.7,441.8 L389.6,442.7 L388.4,443.7 L387.2,444.6 L386.0,445.5 L384.8,446.4 L383.6,447.4 L382.4,448.3 L381.3,449.3 L380.1,450.2 L378.9,451.1 L377.7,452.1 L376.6,453.0 L375.4,454.0 L374.2,454.9 L373.0,455.9 L371.9,456.8 L370.7,457.8 L369.5,458.7 L368.4,459.7 L367.2,460.6 L366.0,461.6 L364.9,462.6 L363.7,463.5 L362.6,464.5 L361.4,465.4 L360.2,466.4 L359.1,467.4 L357.9,468.4 L356.8,469.3 L355.6,470.3 L354.5,471.3 L353.3,472.3 L352.2,473.2 L351.1,474.2 L349.9,475.2 L348.8,476.2 L347.6,477.2 L346.5,478.2 L345.4,479.2 L344.2,480.2 L343.1,481.2 L342.0,482.1 L340.8,483.1 L339.7,484.1 L338.6,485.1 L337.5,486.2 L336.3,487.2 L335.2,488.2 L334.1,489.2 L333.0,490.2 L331.9,491.2 L330.8,492.2 L329.6,493.2 L328.5,494.2 L327.4,495.3 L326.3,496.3 L325.2,497.3 L324.1,498.3 L323.0,499.4 L321.9,500.4 L320.8,501.4 L319.7,502.5 L318.6,503.5 L317.5,504.5 L316.4,505.6 L315.3,506.6 L314.2,507.7 L313.1,508.7 L312.1,509.7 L311.0,510.8 L309.9,511.8 L308.8,512.9 L307.7,513.9 L306.7,515.0 L305.6,516.1 L304.5,517.1 L303.4,518.2 L302.4,519.2 L301.3,520.3 L300.2,521.4 L299.2,522.4 L298.1,523.5 L297.0,524.6 L296.0,525.7 L294.9,526.7 L293.9,527.8 L292.8,528.9 L291.8,530.0 L290.7,531.1 L289.7,532.1 L288.7,533.2 L287.6,534.3 L286.6,535.4 L285.5,536.5 L284.5,537.6 L283.5,538.7 L282.5,539.8 L281.5,540.9 L280.4,542.1 L279.4,543.2 L278.4,544.3 L277.4,545.4 L276.4,546.5 L275.4,547.7 L274.4,548.8 L273.4,549.9 L272.5,551.1 L271.5,552.2 L270.5,553.4 L269.5,554.5 L268.6,555.7 L267.6,556.8 L266.6,558.0 L265.7,559.1 L264.7,560.3 L263.8,561.5 L262.9,562.6 L261.9,563.8 L261.0,565.0 L260.1,566.2 L259.2,567.4 L258.3,568.6 L257.4,569.8 L256.5,571.0 L255.6,572.2 L254.7,573.4 L253.8,574.6 L253.0,575.8 L252.1,577.1 L251.2,578.3 L250.4,579.5 L249.5,580.8 L248.7,582.0 L247.9,583.3 L247.0,584.5 L246.2,585.8 L245.4,587.1 L244.6,588.3 L243.8,589.6 L243.0,590.9 L242.2,592.2 L241.5,593.5 L240.7,594.8 L240.0,596.1 L239.2,597.4 L238.5,598.7 L237.7,600.0 L237.0,601.3 L236.3,602.7 L235.6,604.0 L234.9,605.3 L234.2,606.7 L233.5,608.0 L232.8,609.4 L232.2,610.8 L231.5,612.2 L230.9,613.5" fill="none" stroke="#0b4455" stroke-width="4.4"/>
<path d="M490.4,303.5 L525.4,292.6 L512.0,288.4 L514.5,273.1 Z" fill="#0b4455"/>
<path d="M222.7,562.5 L251.5,537.7 L237.6,539.4 L234.8,524.2 Z" fill="#0b4455"/>
<path d="M581.4,318.2 L617.1,310.6 L604.1,305.1 L607.7,290.1 Z" fill="#0b4455"/>
<path d="M364.8,462.6 L399.1,448.8 L385.4,445.7 L386.9,430.2 Z" fill="#0b4455"/>
<path d="M165.6,758.7 L171.7,716.6 L162.6,728.4 L151.3,719.2 Z" fill="#0b4455"/>
<path d="M237,623.3 Q242.5,624 244,626.5 Q245,628.5 244.8,631 L242,651 L237.4,697.5 L231.6,737.5 Q231,741.5 234,743.2 L240.5,746.3 Q242.5,747.8 239.5,749.3 L233,751 Q230.9,752 230.7,754.5 L219.9,840 L217.3,857.5 L217.1,866.9 L208.8,869" fill="none" stroke="#0a0a0a" stroke-width="2.2" stroke-linejoin="round" stroke-linecap="round"/>
<text transform="translate(680.5,137.4) scale(1,1.12)" font-family="Liberation Serif, serif" font-size="25.97" font-weight="normal" font-style="italic" fill="#0e4656" stroke="#0e4656" stroke-width="0.45">overshoot boundary</text>
<text transform="translate(728.2,272.0) scale(1,1.12)" font-family="Liberation Serif, serif" font-size="25.8" font-weight="normal" font-style="italic" fill="#0e4656" stroke="#0e4656" stroke-width="0.45">undershoot boundary</text>
<text transform="translate(726.8,209.0) scale(1,1.12)" font-family="Liberation Serif, serif" font-size="34.46" font-weight="bold" font-style="italic" fill="#d00000">Re-Entry Corridor</text>
<text transform="translate(142,185.8) scale(1,1.14)" font-family="Liberation Serif, serif" font-size="34.5" font-weight="bold" font-style="italic" fill="#580202">overshoot</text>
<text transform="translate(100.2,233.5) scale(1,1.12)" font-family="Liberation Serif, serif" font-size="34.5" font-weight="bold" font-style="normal" fill="#580202">(too little drag)</text>
<text transform="translate(599,522.0) scale(1,1.14)" font-family="Liberation Serif, serif" font-size="34.4" font-weight="bold" font-style="italic" fill="#580202">undershoot</text>
<text transform="translate(506,569) scale(1,1.1)" font-family="Liberation Serif, serif" font-size="34.36" font-weight="bold" font-style="normal" fill="#580202">(too much deceleration)</text>
<text transform="translate(246.7,728) scale(1,1.13)" font-family="Liberation Serif, serif" font-size="25.8" font-weight="bold" font-style="italic" fill="#050505">Landing uncertainty</text>
<text transform="translate(294,769.3) scale(1,1.05)" font-family="Liberation Serif, serif" font-size="25.8" font-weight="bold" font-style="italic" fill="#050505">(along track)</text>
</svg>
</body></html>
